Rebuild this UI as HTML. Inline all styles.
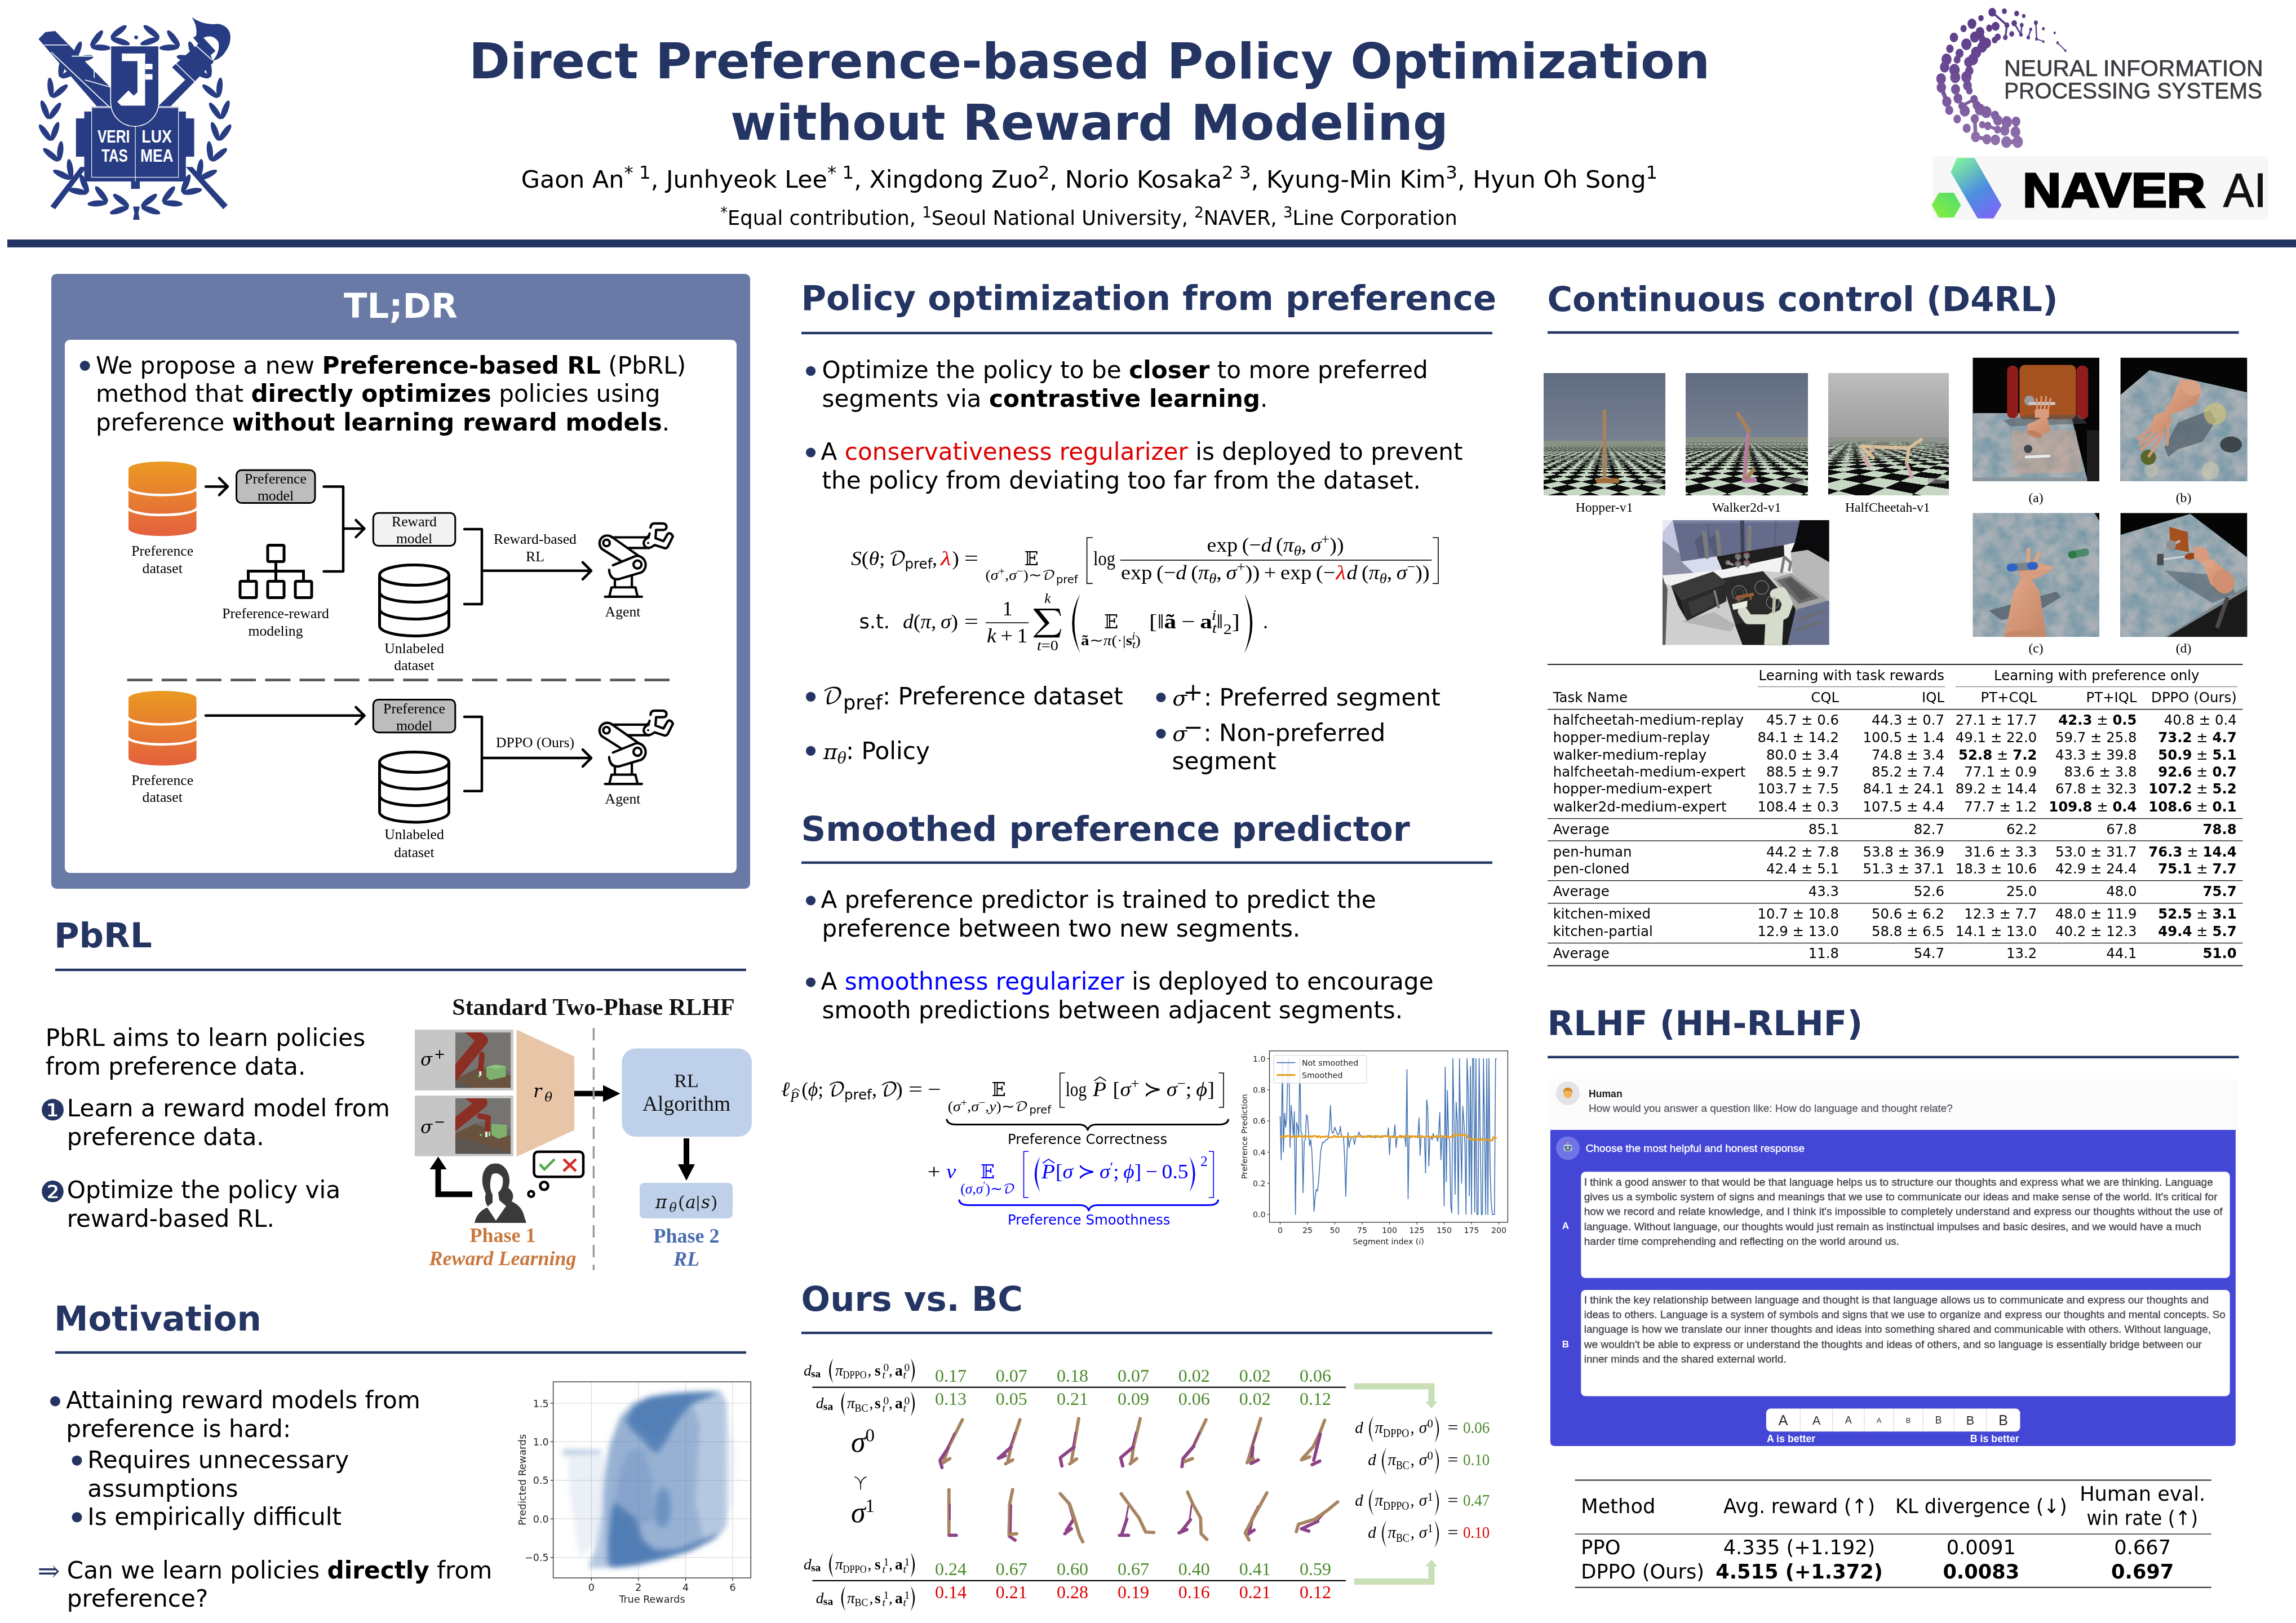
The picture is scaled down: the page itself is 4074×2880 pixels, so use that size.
<!DOCTYPE html>
<html><head><meta charset="utf-8"><title>Direct Preference-based Policy Optimization without Reward Modeling</title>
<style>
html,body{margin:0;padding:0;background:#fff;}
#poster{position:relative;width:4074px;height:2880px;overflow:hidden;background:#fff;}
#poster svg.main{position:absolute;left:0;top:0;}
.abs{position:absolute;}
</style></head><body>
<div id="poster">
<div class="abs" style="left:2739px;top:662.3px;width:216px;height:216.3px;overflow:hidden;background:linear-gradient(180deg,#5f6b80 0,#788191 119.7px);"><div class="abs" style="left:0;top:119.7px;width:216px;height:96.60000000000001px;overflow:hidden;perspective:300px;perspective-origin:50% 0;background:#8a9286;"><div class="abs" style="left:108.0px;top:0;width:0;height:0;transform-style:preserve-3d;"><div class="abs" style="left:-3000px;top:-3000px;width:6000px;height:6000px;background:conic-gradient(#0b0b0b 25%,#c6d7c3 0 50%,#0b0b0b 0 75%,#c6d7c3 0) 0 0/80px 80px;transform:translateY(100px) rotateX(90deg) rotateZ(45deg);"></div></div><div class="abs" style="left:0;top:0;width:216px;height:96.60000000000001px;background:linear-gradient(180deg,#8a9286 0,#8a9286 3px,rgba(140,150,138,0.7) 12px,rgba(140,150,138,0.25) 30px,rgba(140,150,138,0) 55px);"></div></div><svg class="abs" style="left:0;top:0" width="216" height="216.3" viewBox="0 0 216 216.3"><polyline points="108.0,68.0 108.0,186.0" fill="none" stroke="#a9825a" stroke-width="6.5" stroke-linecap="round" stroke-linejoin="round"/><polyline points="97.0,191.0 130.0,191.0" fill="none" stroke="#a06d3c" stroke-width="9" stroke-linecap="round" stroke-linejoin="round"/><rect x="180" y="187" width="30" height="10" fill="#888" fill-opacity="0.55" rx="1"/></svg></div>
<div class="abs" style="left:2991px;top:662.3px;width:216.5px;height:216.3px;overflow:hidden;background:linear-gradient(180deg,#5f6b80 0,#788191 114px);"><div class="abs" style="left:0;top:114px;width:216.5px;height:102.30000000000001px;overflow:hidden;perspective:300px;perspective-origin:50% 0;background:#8a9286;"><div class="abs" style="left:108.25px;top:0;width:0;height:0;transform-style:preserve-3d;"><div class="abs" style="left:-3000px;top:-3000px;width:6000px;height:6000px;background:conic-gradient(#0b0b0b 25%,#c6d7c3 0 50%,#0b0b0b 0 75%,#c6d7c3 0) 0 0/96px 96px;transform:translateY(100px) rotateX(90deg) rotateZ(45deg);"></div></div><div class="abs" style="left:0;top:0;width:216.5px;height:102.30000000000001px;background:linear-gradient(180deg,#8a9286 0,#8a9286 3px,rgba(140,150,138,0.7) 12px,rgba(140,150,138,0.25) 30px,rgba(140,150,138,0) 55px);"></div></div><svg class="abs" style="left:0;top:0" width="216.5" height="216.3" viewBox="0 0 216.5 216.3"><polyline points="93.0,72.0 112.0,103.0 108.0,150.0 104.0,186.0" fill="none" stroke="#a9825a" stroke-width="6.5" stroke-linecap="round" stroke-linejoin="round"/><polyline points="110.0,108.0 106.0,150.0 104.0,183.0" fill="none" stroke="#b87aa8" stroke-width="5" stroke-linecap="round" stroke-linejoin="round"/><polyline points="104.0,190.0 122.0,190.0" fill="none" stroke="#b87aa8" stroke-width="9" stroke-linecap="round" stroke-linejoin="round"/><polyline points="109.0,186.0 120.0,172.0" fill="none" stroke="#a9825a" stroke-width="7" stroke-linecap="round" stroke-linejoin="round"/><rect x="176" y="186" width="33" height="10" fill="#888" fill-opacity="0.55" rx="1"/></svg></div>
<div class="abs" style="left:3243.5px;top:662.3px;width:214.5px;height:216.3px;overflow:hidden;background:linear-gradient(180deg,#bdbdbd 0,#9d9d9d 113.5px);"><div class="abs" style="left:0;top:113.5px;width:214.5px;height:102.80000000000001px;overflow:hidden;perspective:300px;perspective-origin:50% 0;background:#8f948c;"><div class="abs" style="left:107.25px;top:0;width:0;height:0;transform-style:preserve-3d;"><div class="abs" style="left:-3000px;top:-3000px;width:6000px;height:6000px;background:conic-gradient(#0b0b0b 25%,#c6d7c3 0 50%,#0b0b0b 0 75%,#c6d7c3 0) 0 0/124px 124px;transform:translateY(100px) rotateX(90deg) rotateZ(33deg);"></div></div><div class="abs" style="left:0;top:0;width:214.5px;height:102.80000000000001px;background:linear-gradient(180deg,#8f948c 0,#8f948c 3px,rgba(140,150,138,0.7) 12px,rgba(140,150,138,0.25) 30px,rgba(140,150,138,0) 55px);"></div></div><svg class="abs" style="left:0;top:0" width="214.5" height="216.3" viewBox="0 0 214.5 216.3"><polyline points="58.0,130.0 143.0,133.0 165.0,118.0" fill="none" stroke="#d8bf99" stroke-width="6" stroke-linecap="round" stroke-linejoin="round"/><polyline points="143.0,133.0 139.0,160.0" fill="none" stroke="#d8bf99" stroke-width="6" stroke-linecap="round" stroke-linejoin="round"/><polyline points="80.0,133.0 64.0,152.0" fill="none" stroke="#cfae96" stroke-width="6" stroke-linecap="round" stroke-linejoin="round"/><polyline points="64.0,152.0 72.0,165.0" fill="none" stroke="#d0a3a8" stroke-width="6" stroke-linecap="round" stroke-linejoin="round"/><polyline points="139.0,160.0 148.0,185.0" fill="none" stroke="#d0a3a8" stroke-width="6" stroke-linecap="round" stroke-linejoin="round"/><polyline points="58.0,130.0 80.0,150.0" fill="none" stroke="#d8bf99" stroke-width="6" stroke-linecap="round" stroke-linejoin="round"/><rect x="177" y="186" width="32" height="10" fill="#999" fill-opacity="0.55" rx="1"/></svg></div>

<svg class="main" width="4074" height="2880" viewBox="0 0 4074 2880">
<rect x="13.0" y="425.0" width="4061.0" height="14.0" fill="#243564"/>
<text x="1933.0" y="139.0" font-size="88" font-family="'DejaVu Sans', sans-serif" fill="#243564" text-anchor="middle" font-weight="bold">Direct Preference-based Policy Optimization</text>
<text x="1933.0" y="247.5" font-size="88" font-family="'DejaVu Sans', sans-serif" fill="#243564" text-anchor="middle" font-weight="bold">without Reward Modeling</text>
<text x="1933.0" y="333.0" font-size="42.8" font-family="'DejaVu Sans', sans-serif" fill="#000" text-anchor="middle">Gaon An<tspan dy="-16.26" font-size="32.5">* 1</tspan><tspan dy="16.26">, Junhyeok Lee</tspan><tspan dy="-16.26" font-size="32.5">* 1</tspan><tspan dy="16.26">, Xingdong Zuo</tspan><tspan dy="-16.26" font-size="32.5">2</tspan><tspan dy="16.26">, Norio Kosaka</tspan><tspan dy="-16.26" font-size="32.5">2 3</tspan><tspan dy="16.26">, Kyung-Min Kim</tspan><tspan dy="-16.26" font-size="32.5">3</tspan><tspan dy="16.26">, Hyun Oh Song</tspan><tspan dy="-16.26" font-size="32.5">1</tspan></text>
<text x="1932.0" y="399.0" font-size="35.2" font-family="'DejaVu Sans', sans-serif" fill="#000" text-anchor="middle"><tspan dy="-13.38" font-size="26">*</tspan><tspan dy="13.38">Equal contribution, </tspan><tspan dy="-13.38" font-size="26">1</tspan><tspan dy="13.38">Seoul National University, </tspan><tspan dy="-13.38" font-size="26">2</tspan><tspan dy="13.38">NAVER, </tspan><tspan dy="-13.38" font-size="26">3</tspan><tspan dy="13.38">Line Corporation</tspan></text>
<rect x="91.0" y="486.0" width="1240.0" height="1091.0" fill="#687aa5" rx="9"/>
<rect x="115.0" y="603.0" width="1192.0" height="946.0" fill="#fff" rx="9"/>
<text x="711.0" y="563.5" font-size="60.8" font-family="'DejaVu Sans', sans-serif" fill="#fff" text-anchor="middle" font-weight="bold">TL;DR</text>
<circle cx="150.7" cy="649.0" r="9.0" fill="#243564" />
<text x="170.0" y="662.6" font-size="42.2" font-family="'DejaVu Sans', sans-serif" fill="#000">We propose a new <tspan font-weight="bold">Preference-based RL</tspan> (PbRL)</text>
<text x="170.0" y="713.2" font-size="42.2" font-family="'DejaVu Sans', sans-serif" fill="#000">method that <tspan font-weight="bold">directly optimizes</tspan> policies using</text>
<text x="170.0" y="763.8" font-size="42.2" font-family="'DejaVu Sans', sans-serif" fill="#000">preference <tspan font-weight="bold">without learning reward models</tspan>.</text>
<defs><linearGradient id="og1" x1="0" y1="0" x2="0" y2="1"><stop offset="0" stop-color="#e99a22"/><stop offset="1" stop-color="#e4603e"/></linearGradient></defs><path d="M228,832.0 A60.30000000000001,13.0 0 0 1 348.6,832.0 L348.6,938.3 A60.30000000000001,13.0 0 0 1 228,938.3 Z" fill="url(#og1)" />
<path d="M227,865.4333333333333 A61.30000000000001,13.0 0 0 0 349.6,865.4333333333333" fill="none" stroke="#fff" stroke-width="4.5" />
<path d="M227,900.8666666666667 A61.30000000000001,13.0 0 0 0 349.6,900.8666666666667" fill="none" stroke="#fff" stroke-width="4.5" />
<line x1="365.0" y1="863.4" x2="402.0" y2="863.4" stroke="#000" stroke-width="4.5" stroke-linecap="round"/>
<path d="M389,848.4 L404,863.4 L389,878.4" fill="none" stroke="#000" stroke-width="4.5" stroke-linecap="round" stroke-linejoin="round"/>
<rect x="419.5" y="834.3" width="139.5" height="58.3" fill="#bdbdbd" rx="9" stroke="#000" stroke-width="3"/>
<text x="489.0" y="858.0" font-size="25.7" font-family="'Liberation Serif', serif" fill="#000" text-anchor="middle">Preference</text>
<text x="489.0" y="888.3" font-size="25.7" font-family="'Liberation Serif', serif" fill="#000" text-anchor="middle">model</text>
<path d="M574.5,863.4 L609,863.4 L609,1014 L574.5,1014" fill="none" stroke="#000" stroke-width="4.5" stroke-linecap="round" stroke-linejoin="round"/>
<line x1="609.0" y1="938.0" x2="644.5" y2="938.0" stroke="#000" stroke-width="4.5" stroke-linecap="round"/>
<path d="M631.5,923 L646.5,938 L631.5,953" fill="none" stroke="#000" stroke-width="4.5" stroke-linecap="round" stroke-linejoin="round"/>
<rect x="662.3" y="910.2" width="145.5" height="58.3" fill="#f2f2f2" rx="9" stroke="#000" stroke-width="3"/>
<text x="735.0" y="934.0" font-size="25.7" font-family="'Liberation Serif', serif" fill="#000" text-anchor="middle">Reward</text>
<text x="735.0" y="964.0" font-size="25.7" font-family="'Liberation Serif', serif" fill="#000" text-anchor="middle">model</text>
<rect x="475.0" y="967.5" width="29.0" height="29.0" fill="#fff" rx="2" stroke="#000" stroke-width="5"/>
<line x1="489.5" y1="999.0" x2="489.5" y2="1031.0" stroke="#000" stroke-width="5" />
<path d="M440.5,1031 L440.5,1013.5 L538.5,1013.5 L538.5,1031" fill="none" stroke="#000" stroke-width="5" />
<rect x="426.0" y="1031.5" width="29.0" height="29.0" fill="#fff" rx="2" stroke="#000" stroke-width="5"/>
<rect x="475.0" y="1031.5" width="29.0" height="29.0" fill="#fff" rx="2" stroke="#000" stroke-width="5"/>
<rect x="524.0" y="1031.5" width="29.0" height="29.0" fill="#fff" rx="2" stroke="#000" stroke-width="5"/>
<text x="489.0" y="1096.5" font-size="25.7" font-family="'Liberation Serif', serif" fill="#000" text-anchor="middle">Preference-reward</text>
<text x="489.0" y="1127.8" font-size="25.7" font-family="'Liberation Serif', serif" fill="#000" text-anchor="middle">modeling</text>
<text x="288.2" y="986.0" font-size="25.7" font-family="'Liberation Serif', serif" fill="#000" text-anchor="middle">Preference</text>
<text x="288.2" y="1016.5" font-size="25.7" font-family="'Liberation Serif', serif" fill="#000" text-anchor="middle">dataset</text>
<path d="M673.5,1020.5 L673.5,1110.5 A61.5,18.0 0 0 0 796.5,1110.5 L796.5,1020.5" fill="#fff" stroke="#000" stroke-width="5" />
<ellipse cx="735.0" cy="1020.5" rx="61.5" ry="18.0" fill="#fff" stroke="#000" stroke-width="5"/><path d="M673.5,1050.5 A61.5,18.0 0 0 0 796.5,1050.5" fill="none" stroke="#000" stroke-width="5" />
<path d="M673.5,1080.5 A61.5,18.0 0 0 0 796.5,1080.5" fill="none" stroke="#000" stroke-width="5" />
<text x="735.0" y="1158.5" font-size="25.7" font-family="'Liberation Serif', serif" fill="#000" text-anchor="middle">Unlabeled</text>
<text x="735.0" y="1189.0" font-size="25.7" font-family="'Liberation Serif', serif" fill="#000" text-anchor="middle">dataset</text>
<path d="M824,939 L855,939 L855,1072 L824,1072" fill="none" stroke="#000" stroke-width="4.5" stroke-linecap="round" stroke-linejoin="round"/>
<line x1="855.0" y1="1012.8" x2="1047.0" y2="1012.8" stroke="#000" stroke-width="4.5" stroke-linecap="round"/>
<path d="M1034,997.8 L1049,1012.8 L1034,1027.8" fill="none" stroke="#000" stroke-width="4.5" stroke-linecap="round" stroke-linejoin="round"/>
<text x="949.5" y="965.3" font-size="25.7" font-family="'Liberation Serif', serif" fill="#000" text-anchor="middle">Reward-based</text>
<text x="949.5" y="996.0" font-size="25.7" font-family="'Liberation Serif', serif" fill="#000" text-anchor="middle">RL</text>
<g transform="translate(1040.0,910.0) scale(0.10478)" fill="none" stroke="#000" stroke-width="40" stroke-linecap="round" stroke-linejoin="round"><path d="M320,1420 L945,1420"/><path d="M395,1410 L430,1262 L835,1262 L870,1410"/><path d="M487,1255 L487,1150 M775,1255 L775,1075"/><path d="M455,888 L850,728 A152,152 0 0 1 935,1010 L565,1120 Q430,1150 395,1010 L390,965"/><circle cx="870" cy="875" r="68"/><path d="M600,822 L268,612 A132,132 0 0 1 425,402 L880,722"/><circle cx="345" cy="510" r="55"/><path d="M435,415 L1020,415 Q1070,400 1075,350 M695,595 L1060,595"/><path d="M1060,415 Q970,455 975,520 Q990,590 1060,595 Q1100,590 1160,545 L1330,600 Q1365,605 1385,570 L1470,400 Q1445,345 1405,345 Q1380,350 1365,385 L1310,480 L1175,430 L1185,290 L1310,290 Q1360,285 1362,235 Q1355,185 1305,180 L1145,180 Q1095,190 1090,250"/><circle cx="1050" cy="510" r="10" fill="#000" stroke-width="18"/></g><text x="1105.0" y="1093.5" font-size="25.7" font-family="'Liberation Serif', serif" fill="#000" text-anchor="middle">Agent</text>
<line x1="225.6" y1="1206.6" x2="1188.0" y2="1206.6" stroke="#595959" stroke-width="4.6" stroke-dasharray="45 16.2"/>
<defs><linearGradient id="og2" x1="0" y1="0" x2="0" y2="1"><stop offset="0" stop-color="#e99a22"/><stop offset="1" stop-color="#e4603e"/></linearGradient></defs><path d="M228,1239.0 A60.30000000000001,13.0 0 0 1 348.6,1239.0 L348.6,1345.4 A60.30000000000001,13.0 0 0 1 228,1345.4 Z" fill="url(#og2)" />
<path d="M227,1272.4666666666667 A61.30000000000001,13.0 0 0 0 349.6,1272.4666666666667" fill="none" stroke="#fff" stroke-width="4.5" />
<path d="M227,1307.9333333333334 A61.30000000000001,13.0 0 0 0 349.6,1307.9333333333334" fill="none" stroke="#fff" stroke-width="4.5" />
<line x1="365.0" y1="1269.8" x2="644.5" y2="1269.8" stroke="#000" stroke-width="4.5" stroke-linecap="round"/>
<path d="M631.5,1254.8 L646.5,1269.8 L631.5,1284.8" fill="none" stroke="#000" stroke-width="4.5" stroke-linecap="round" stroke-linejoin="round"/>
<rect x="662.3" y="1241.4" width="145.5" height="58.3" fill="#bdbdbd" rx="9" stroke="#000" stroke-width="3"/>
<text x="735.0" y="1265.5" font-size="25.7" font-family="'Liberation Serif', serif" fill="#000" text-anchor="middle">Preference</text>
<text x="735.0" y="1296.0" font-size="25.7" font-family="'Liberation Serif', serif" fill="#000" text-anchor="middle">model</text>
<text x="288.2" y="1392.5" font-size="25.7" font-family="'Liberation Serif', serif" fill="#000" text-anchor="middle">Preference</text>
<text x="288.2" y="1423.0" font-size="25.7" font-family="'Liberation Serif', serif" fill="#000" text-anchor="middle">dataset</text>
<path d="M673.5,1352.5 L673.5,1441.0 A61.5,18.0 0 0 0 796.5,1441.0 L796.5,1352.5" fill="#fff" stroke="#000" stroke-width="5" />
<ellipse cx="735.0" cy="1352.5" rx="61.5" ry="18.0" fill="#fff" stroke="#000" stroke-width="5"/><path d="M673.5,1382.0 A61.5,18.0 0 0 0 796.5,1382.0" fill="none" stroke="#000" stroke-width="5" />
<path d="M673.5,1411.5 A61.5,18.0 0 0 0 796.5,1411.5" fill="none" stroke="#000" stroke-width="5" />
<text x="735.0" y="1489.0" font-size="25.7" font-family="'Liberation Serif', serif" fill="#000" text-anchor="middle">Unlabeled</text>
<text x="735.0" y="1520.5" font-size="25.7" font-family="'Liberation Serif', serif" fill="#000" text-anchor="middle">dataset</text>
<path d="M824,1272 L855,1272 L855,1403.8 L824,1403.8" fill="none" stroke="#000" stroke-width="4.5" stroke-linecap="round" stroke-linejoin="round"/>
<line x1="855.0" y1="1345.1" x2="1047.0" y2="1345.1" stroke="#000" stroke-width="4.5" stroke-linecap="round"/>
<path d="M1034,1330.1 L1049,1345.1 L1034,1360.1" fill="none" stroke="#000" stroke-width="4.5" stroke-linecap="round" stroke-linejoin="round"/>
<text x="949.5" y="1325.5" font-size="25.7" font-family="'Liberation Serif', serif" fill="#000" text-anchor="middle">DPPO (Ours)</text>
<g transform="translate(1040.0,1242.3) scale(0.10478)" fill="none" stroke="#000" stroke-width="40" stroke-linecap="round" stroke-linejoin="round"><path d="M320,1420 L945,1420"/><path d="M395,1410 L430,1262 L835,1262 L870,1410"/><path d="M487,1255 L487,1150 M775,1255 L775,1075"/><path d="M455,888 L850,728 A152,152 0 0 1 935,1010 L565,1120 Q430,1150 395,1010 L390,965"/><circle cx="870" cy="875" r="68"/><path d="M600,822 L268,612 A132,132 0 0 1 425,402 L880,722"/><circle cx="345" cy="510" r="55"/><path d="M435,415 L1020,415 Q1070,400 1075,350 M695,595 L1060,595"/><path d="M1060,415 Q970,455 975,520 Q990,590 1060,595 Q1100,590 1160,545 L1330,600 Q1365,605 1385,570 L1470,400 Q1445,345 1405,345 Q1380,350 1365,385 L1310,480 L1175,430 L1185,290 L1310,290 Q1360,285 1362,235 Q1355,185 1305,180 L1145,180 Q1095,190 1090,250"/><circle cx="1050" cy="510" r="10" fill="#000" stroke-width="18"/></g><text x="1105.0" y="1425.8" font-size="25.7" font-family="'Liberation Serif', serif" fill="#000" text-anchor="middle">Agent</text>
<text x="96.0" y="1681.2" font-size="60.8" font-family="'DejaVu Sans', sans-serif" fill="#243564" font-weight="bold">PbRL</text>
<rect x="98.0" y="1718.8" width="1226.0" height="4.4" fill="#243564"/>
<text x="80.7" y="1856.1" font-size="42.2" font-family="'DejaVu Sans', sans-serif" fill="#000">PbRL aims to learn policies</text>
<text x="80.7" y="1906.7" font-size="42.2" font-family="'DejaVu Sans', sans-serif" fill="#000">from preference data.</text>
<circle cx="93.4" cy="1968.6" r="17.0" fill="#fff" />
<text x="70.3" y="1988.2" font-size="51.7" font-family="'DejaVu Sans', sans-serif" fill="#243564">❶</text>
<text x="118.7" y="1981.4" font-size="42.2" font-family="'DejaVu Sans', sans-serif" fill="#000">Learn a reward model from</text>
<text x="118.7" y="2032.2" font-size="42.2" font-family="'DejaVu Sans', sans-serif" fill="#000">preference data.</text>
<circle cx="93.4" cy="2113.0" r="17.0" fill="#fff" />
<text x="70.3" y="2132.6" font-size="51.7" font-family="'DejaVu Sans', sans-serif" fill="#243564">❷</text>
<text x="118.7" y="2125.6" font-size="42.2" font-family="'DejaVu Sans', sans-serif" fill="#000">Optimize the policy via</text>
<text x="118.7" y="2176.5" font-size="42.2" font-family="'DejaVu Sans', sans-serif" fill="#000">reward-based RL.</text>
<text x="1053.0" y="1801.3" font-size="42.1" font-family="'Liberation Serif', serif" fill="#111" text-anchor="middle" font-weight="bold">Standard Two-Phase RLHF</text>
<rect x="735.9" y="1827.1" width="174.8" height="107.9" fill="#c6c6c6"/>
<rect x="735.9" y="1944.2" width="174.8" height="107.5" fill="#c6c6c6"/>
<text x="745.0" y="1891.0" font-size="31" font-family="'DejaVu Math TeX Gyre', 'Liberation Serif', serif" fill="#000">𝜎<tspan dy="-13.02" font-size="24">+</tspan></text>
<text x="745.0" y="2011.0" font-size="31" font-family="'DejaVu Math TeX Gyre', 'Liberation Serif', serif" fill="#000">𝜎<tspan dy="-13.02" font-size="24">−</tspan></text>
<svg x="807.9" y="1832.1" width="98.4" height="98.4" viewBox="0 0 100 100" preserveAspectRatio="none"><rect width="100" height="100" fill="#767471"/><polygon points="0,84 41,64 100,78 100,100 0,100" fill="#69523f"/><polygon points="0,84 30,100 0,100" fill="#585858"/><polygon points="41,64 60,60 100,70 100,78" fill="#6a6a68"/><polygon points="56,62 73,58 91,61 91,80 62,86 56,80" fill="#7fb06e"/><polygon points="56,62 73,58 91,61 74,66" fill="#92c481"/><path d="M-4,78 L49,14 L26,-6" fill="none" stroke="#8b2e24" stroke-width="20" stroke-linejoin="round" stroke-linecap="round"/><path d="M48,40 L46,62" fill="none" stroke="#8b2e24" stroke-width="10" stroke-linecap="round"/><circle cx="46" cy="66" r="5.5" fill="#8b2e24"/><rect x="43" y="70" width="4" height="8" fill="#eee"/><circle cx="43" cy="79" r="2" fill="#6cd05a"/></svg><svg x="807.9" y="1949" width="98.4" height="98.4" viewBox="0 0 100 100" preserveAspectRatio="none"><rect width="100" height="100" fill="#767471"/><polygon points="0,63 35,46 100,68 100,100 20,100 0,92" fill="#69523f"/><polygon points="0,70 100,96 100,100 0,100" fill="#5a5550"/><polygon points="35,46 50,42 100,56 100,68" fill="#6a6a68"/><polygon points="65,46 93,48 93,68 78,73 65,66" fill="#7fb06e"/><path d="M-4,50 L48,8 L26,-6" fill="none" stroke="#8b2e24" stroke-width="20" stroke-linejoin="round" stroke-linecap="round"/><path d="M44,32 L59,35 L58,56" fill="none" stroke="#8b2e24" stroke-width="10" stroke-linecap="round" stroke-linejoin="round"/><rect x="54" y="60" width="4" height="10" fill="#eee"/><rect x="60" y="60" width="3" height="8" fill="#9be58a"/><circle cx="46" cy="66" r="2" fill="#6cd05a"/></svg><path d="M916.6,1827 L1019,1874.4 L1019,2005.4 L916.6,2052.6 Z" fill="#e9c5a8" />
<text x="946.0" y="1947.0" font-size="31" font-family="'DejaVu Math TeX Gyre', 'Liberation Serif', serif" fill="#000">𝑟<tspan dy="7.75" font-size="23">𝜃</tspan></text>
<rect x="1019.0" y="1935.7" width="56.0" height="9.6" fill="#000"/>
<path d="M1070,1925.5 L1100.6,1940.5 L1070,1955.5 Z" fill="#000" />
<line x1="1053.4" y1="1824.0" x2="1053.4" y2="2254.0" stroke="#9a9a9a" stroke-width="3.4" stroke-dasharray="22 13"/>
<rect x="1103.5" y="1860.6" width="230.5" height="156.4" fill="#bfd0ea" rx="24"/>
<text x="1218.0" y="1929.0" font-size="34" font-family="'Liberation Serif', serif" fill="#111" text-anchor="middle">RL</text>
<text x="1218.0" y="1971.0" font-size="37.5" font-family="'Liberation Serif', serif" fill="#111" text-anchor="middle">Algorithm</text>
<rect x="1213.0" y="2020.0" width="10.0" height="50.0" fill="#000"/>
<path d="M1203,2066 L1218,2095 L1233,2066 Z" fill="#000" />
<rect x="1135.0" y="2099.0" width="165.0" height="63.0" fill="#bfd0ea" rx="8"/>
<text x="1217.5" y="2144.0" font-size="31" font-family="'DejaVu Math TeX Gyre', 'Liberation Serif', serif" fill="#111" text-anchor="middle">𝜋<tspan dy="6.82" font-size="22">𝜃</tspan><tspan dy="-6.82">(𝑎|𝑠)</tspan></text>
<text x="1218.0" y="2205.0" font-size="36" font-family="'Liberation Serif', serif" fill="#4a6db0" text-anchor="middle" font-weight="bold">Phase 2</text>
<text x="1218.0" y="2245.7" font-size="36" font-family="'Liberation Serif', serif" fill="#4a6db0" text-anchor="middle" font-weight="bold" font-style="italic">RL</text>
<text x="892.0" y="2204.0" font-size="36" font-family="'Liberation Serif', serif" fill="#c9783f" text-anchor="middle" font-weight="bold">Phase 1</text>
<text x="892.0" y="2244.5" font-size="36" font-family="'Liberation Serif', serif" fill="#c9783f" text-anchor="middle" font-weight="bold" font-style="italic">Reward Learning</text>
<path d="M838,2119.3 L777.5,2119.3 L777.5,2072" fill="none" stroke="#000" stroke-width="10" />
<path d="M762.5,2075 L777.5,2052.6 L792.5,2075 Z" fill="#000" />
<rect x="947.5" y="2043.8" width="87.5" height="44.5" fill="#fff" rx="7" stroke="#000" stroke-width="4.5"/>
<path d="M958,2066 L966,2075 L984,2057" fill="none" stroke="#4ea84a" stroke-width="4.5" />
<path d="M1000,2057 L1022,2078 M1022,2057 L1000,2078" fill="none" stroke="#d0302a" stroke-width="4.5" />
<circle cx="965.5" cy="2104.3" r="7.0" fill="#fff" stroke="#000" stroke-width="4.6" />
<circle cx="942.5" cy="2118.7" r="5.0" fill="#fff" stroke="#000" stroke-width="4.4" />
<path d="M870,2066 Q890,2060 900,2078 Q907,2092 902,2108 Q915,2118 908,2132 Q926,2140 930,2158 L934,2170 L842,2170 Q846,2150 866,2142 Q858,2130 862,2118 Q852,2098 858,2080 Q862,2070 870,2066 Z" fill="#3a3a3a" />
<path d="M873,2084 Q884,2078 892,2090 Q894,2108 884,2116 L886,2130 L898,2140 L880,2166 L864,2142 L874,2134 L874,2120 Q866,2106 873,2084 Z" fill="#fff" />
<text x="96.0" y="2360.6" font-size="60.8" font-family="'DejaVu Sans', sans-serif" fill="#243564" font-weight="bold">Motivation</text>
<rect x="98.0" y="2397.8" width="1226.0" height="4.4" fill="#243564"/>
<circle cx="98.0" cy="2486.5" r="9.0" fill="#243564" />
<text x="117.2" y="2498.6" font-size="42.2" font-family="'DejaVu Sans', sans-serif" fill="#000">Attaining reward models from</text>
<text x="117.2" y="2549.6" font-size="42.2" font-family="'DejaVu Sans', sans-serif" fill="#000">preference is hard:</text>
<circle cx="136.5" cy="2591.7" r="9.0" fill="#243564" />
<text x="155.3" y="2605.3" font-size="42.2" font-family="'DejaVu Sans', sans-serif" fill="#000">Requires unnecessary</text>
<text x="155.3" y="2656.0" font-size="42.2" font-family="'DejaVu Sans', sans-serif" fill="#000">assumptions</text>
<circle cx="136.5" cy="2692.3" r="9.0" fill="#243564" />
<text x="155.3" y="2706.2" font-size="42.2" font-family="'DejaVu Sans', sans-serif" fill="#000">Is empirically difficult</text>
<text x="66.0" y="2800.4" font-size="42" font-family="'DejaVu Math TeX Gyre', 'Liberation Serif', serif" fill="#243564">⇒</text>
<text x="118.7" y="2800.6" font-size="42.2" font-family="'DejaVu Sans', sans-serif" fill="#000">Can we learn policies <tspan font-weight="bold">directly</tspan> from</text>
<text x="118.7" y="2851.2" font-size="42.2" font-family="'DejaVu Sans', sans-serif" fill="#000">preference?</text>
<rect x="981.6" y="2452.0" width="350.7" height="348.0" fill="#fff"/>
<line x1="1049.4" y1="2452.0" x2="1049.4" y2="2800.0" stroke="#dcdcdc" stroke-width="1.2" />
<line x1="1132.9" y1="2452.0" x2="1132.9" y2="2800.0" stroke="#dcdcdc" stroke-width="1.2" />
<line x1="1216.5" y1="2452.0" x2="1216.5" y2="2800.0" stroke="#dcdcdc" stroke-width="1.2" />
<line x1="1300.0" y1="2452.0" x2="1300.0" y2="2800.0" stroke="#dcdcdc" stroke-width="1.2" />
<line x1="981.6" y1="2763.6" x2="1332.3" y2="2763.6" stroke="#dcdcdc" stroke-width="1.2" />
<line x1="981.6" y1="2695.2" x2="1332.3" y2="2695.2" stroke="#dcdcdc" stroke-width="1.2" />
<line x1="981.6" y1="2626.8" x2="1332.3" y2="2626.8" stroke="#dcdcdc" stroke-width="1.2" />
<line x1="981.6" y1="2558.4" x2="1332.3" y2="2558.4" stroke="#dcdcdc" stroke-width="1.2" />
<line x1="981.6" y1="2490.0" x2="1332.3" y2="2490.0" stroke="#dcdcdc" stroke-width="1.2" />
<defs><clipPath id="scl"><rect x="981.6" y="2452.0" width="350.69999999999993" height="348.0"/></clipPath><filter id="sbl" x="-20%" y="-20%" width="140%" height="140%"><feGaussianBlur stdDeviation="5"/></filter></defs><g clip-path="url(#scl)"><g filter="url(#sbl)"><polygon points="1043.1,2782.8 1057.8,2743.1 1068.2,2681.5 1072.4,2613.1 1082.8,2558.4 1099.5,2514.6 1120.4,2490.0 1153.8,2476.3 1216.5,2469.5 1279.1,2468.1 1289.6,2490.0 1289.6,2708.9 1258.2,2732.1 1216.5,2752.7 1174.7,2766.3 1132.9,2777.3 1091.2,2781.4" fill="#4f7cb4" fill-opacity="0.42"/>
<polygon points="1074.5,2777.3 1072.4,2654.2 1080.7,2572.1 1103.7,2510.5 1153.8,2483.2 1224.8,2476.3 1241.5,2531.0 1233.2,2667.8 1249.9,2736.2 1174.7,2763.6 1112.1,2780.0" fill="#4f7cb4" fill-opacity="0.3"/>
<polygon points="1110.0,2520.1 1124.6,2494.1 1149.6,2480.4 1183.1,2473.6 1224.8,2470.8 1274.9,2468.8 1258.2,2479.1 1224.8,2492.7 1199.8,2524.2 1183.1,2555.7 1166.3,2578.9 1153.8,2572.1 1137.1,2551.6 1120.4,2537.9" fill="#4f7cb4" fill-opacity="0.85"/>
<polygon points="1116.2,2517.4 1141.3,2487.3 1195.6,2476.3 1237.3,2476.3 1208.1,2503.7 1183.1,2537.9 1162.2,2558.4 1132.9,2531.0" fill="#4f7cb4" fill-opacity="0.6"/>
<polygon points="1080.7,2780.0 1079.5,2736.2 1084.9,2681.5 1091.2,2665.1 1107.9,2678.8 1128.8,2695.2 1141.3,2733.5 1162.2,2749.9 1199.8,2749.9 1233.2,2737.6 1270.8,2722.6 1285.4,2713.0 1266.6,2732.1 1224.8,2752.7 1174.7,2767.7 1132.9,2777.3 1091.2,2782.1" fill="#4f7cb4" fill-opacity="0.9"/>
<polygon points="1084.9,2770.4 1084.9,2708.9 1091.2,2681.5 1116.2,2702.0 1132.9,2743.1 1166.3,2756.8 1112.1,2777.3" fill="#4f7cb4" fill-opacity="0.7"/>
<polygon points="1160.1,2688.4 1164.3,2654.2 1174.7,2637.7 1187.2,2647.3 1191.4,2681.5 1183.1,2708.9 1168.4,2708.9" fill="#4f7cb4" fill-opacity="0.55"/>
<polygon points="1091.2,2667.8 1099.5,2613.1 1116.2,2572.1 1141.3,2572.1 1158.0,2626.8 1158.0,2695.2 1132.9,2708.9" fill="#4f7cb4" fill-opacity="0.25"/>
<polygon points="998.4,2573.4 1011.8,2572.1 1066.1,2573.4 1066.1,2580.3 1011.8,2581.7 998.4,2581.7" fill="#4f7cb4" fill-opacity="0.42"/>
<polygon points="1007.6,2585.8 1070.3,2583.0 1072.4,2647.3 1057.8,2736.2 1028.5,2763.6 1011.8,2654.2" fill="#4f7cb4" fill-opacity="0.12"/>
<polygon points="1289.6,2503.7 1304.2,2572.1 1300.0,2667.8 1289.6,2695.2" fill="#4f7cb4" fill-opacity="0.1"/>
</g></g><rect x="981.6" y="2452.0" width="350.7" height="348.0" fill="none" stroke="#222" stroke-width="1.3"/>
<line x1="1049.4" y1="2800.0" x2="1049.4" y2="2805.0" stroke="#222" stroke-width="1.2" />
<text x="1049.4" y="2822.5" font-size="17.5" font-family="'DejaVu Sans', sans-serif" fill="#222" text-anchor="middle">0</text>
<line x1="1132.9" y1="2800.0" x2="1132.9" y2="2805.0" stroke="#222" stroke-width="1.2" />
<text x="1132.9" y="2822.5" font-size="17.5" font-family="'DejaVu Sans', sans-serif" fill="#222" text-anchor="middle">2</text>
<line x1="1216.5" y1="2800.0" x2="1216.5" y2="2805.0" stroke="#222" stroke-width="1.2" />
<text x="1216.5" y="2822.5" font-size="17.5" font-family="'DejaVu Sans', sans-serif" fill="#222" text-anchor="middle">4</text>
<line x1="1300.0" y1="2800.0" x2="1300.0" y2="2805.0" stroke="#222" stroke-width="1.2" />
<text x="1300.0" y="2822.5" font-size="17.5" font-family="'DejaVu Sans', sans-serif" fill="#222" text-anchor="middle">6</text>
<line x1="976.6" y1="2763.6" x2="981.6" y2="2763.6" stroke="#222" stroke-width="1.2" />
<text x="973.6" y="2770.1" font-size="17.5" font-family="'DejaVu Sans', sans-serif" fill="#222" text-anchor="end">−0.5</text>
<line x1="976.6" y1="2695.2" x2="981.6" y2="2695.2" stroke="#222" stroke-width="1.2" />
<text x="973.6" y="2701.7" font-size="17.5" font-family="'DejaVu Sans', sans-serif" fill="#222" text-anchor="end">0.0</text>
<line x1="976.6" y1="2626.8" x2="981.6" y2="2626.8" stroke="#222" stroke-width="1.2" />
<text x="973.6" y="2633.3" font-size="17.5" font-family="'DejaVu Sans', sans-serif" fill="#222" text-anchor="end">0.5</text>
<line x1="976.6" y1="2558.4" x2="981.6" y2="2558.4" stroke="#222" stroke-width="1.2" />
<text x="973.6" y="2564.9" font-size="17.5" font-family="'DejaVu Sans', sans-serif" fill="#222" text-anchor="end">1.0</text>
<line x1="976.6" y1="2490.0" x2="981.6" y2="2490.0" stroke="#222" stroke-width="1.2" />
<text x="973.6" y="2496.5" font-size="17.5" font-family="'DejaVu Sans', sans-serif" fill="#222" text-anchor="end">1.5</text>
<text x="1157.0" y="2844.0" font-size="17.5" font-family="'DejaVu Sans', sans-serif" fill="#222" text-anchor="middle">True Rewards</text>
<text x="0.0" y="0.0" font-size="17.5" font-family="'DejaVu Sans', sans-serif" fill="#222" text-anchor="middle" transform="translate(932.5,2626) rotate(-90)">Predicted Rewards</text>
<text x="1421.5" y="550.3" font-size="60.8" font-family="'DejaVu Sans', sans-serif" fill="#243564" font-weight="bold">Policy optimization from preference</text>
<rect x="1422.0" y="588.8" width="1226.0" height="4.4" fill="#243564"/>
<circle cx="1438.6" cy="658.3" r="8.6" fill="#243564" />
<text x="1458.5" y="671.0" font-size="42.2" font-family="'DejaVu Sans', sans-serif" fill="#000">Optimize the policy to be <tspan font-weight="bold">closer</tspan> to more preferred</text>
<text x="1458.5" y="721.6" font-size="42.2" font-family="'DejaVu Sans', sans-serif" fill="#000">segments via <tspan font-weight="bold">contrastive learning</tspan>.</text>
<circle cx="1438.6" cy="803.0" r="8.6" fill="#243564" />
<text x="1456.5" y="815.9" font-size="42.2" font-family="'DejaVu Sans', sans-serif" fill="#000">A <tspan fill="#dd0000">conservativeness regularizer</tspan> is deployed to prevent</text>
<text x="1458.5" y="866.5" font-size="42.2" font-family="'DejaVu Sans', sans-serif" fill="#000">the policy from deviating too far from the dataset.</text>
<circle cx="1438.6" cy="1236.3" r="8.6" fill="#243564" />
<text x="1459.0" y="1249.0" font-size="40" font-family="'DejaVu Sans', sans-serif" fill="#000"><tspan font-family="'DejaVu Math TeX Gyre', 'Liberation Serif', serif">𝒟</tspan><tspan dy="10.00" font-size="35.2">pref</tspan></text>
<text x="1566.0" y="1250.2" font-size="42.2" font-family="'DejaVu Sans', sans-serif" fill="#000">: Preference dataset</text>
<circle cx="1438.6" cy="1332.4" r="8.6" fill="#243564" />
<text x="1457.5" y="1346.8" font-size="38" font-family="'DejaVu Math TeX Gyre', 'Liberation Serif', serif" fill="#000">𝜋</text>
<text x="1484.5" y="1355.0" font-size="27" font-family="'DejaVu Math TeX Gyre', 'Liberation Serif', serif" fill="#000">𝜃</text>
<text x="1500.9" y="1346.8" font-size="42.2" font-family="'DejaVu Sans', sans-serif" fill="#000">: Policy</text>
<circle cx="2060.0" cy="1237.5" r="8.6" fill="#243564" />
<text x="2079.0" y="1251.9" font-size="38" font-family="'DejaVu Math TeX Gyre', 'Liberation Serif', serif" fill="#000">𝜎</text>
<text x="2100.5" y="1240.5" font-size="42" font-family="'DejaVu Math TeX Gyre', 'Liberation Serif', serif" fill="#000">+</text>
<text x="2136.0" y="1251.9" font-size="42.2" font-family="'DejaVu Sans', sans-serif" fill="#000">: Preferred segment</text>
<circle cx="2060.0" cy="1301.9" r="8.6" fill="#243564" />
<text x="2079.0" y="1314.6" font-size="38" font-family="'DejaVu Math TeX Gyre', 'Liberation Serif', serif" fill="#000">𝜎</text>
<text x="2100.5" y="1303.0" font-size="42" font-family="'DejaVu Math TeX Gyre', 'Liberation Serif', serif" fill="#000">−</text>
<text x="2135.5" y="1314.6" font-size="42.2" font-family="'DejaVu Sans', sans-serif" fill="#000">: Non-preferred</text>
<text x="2079.5" y="1365.2" font-size="42.2" font-family="'DejaVu Sans', sans-serif" fill="#000">segment</text>
<text x="1421.5" y="1491.6" font-size="60.8" font-family="'DejaVu Sans', sans-serif" fill="#243564" font-weight="bold">Smoothed preference predictor</text>
<rect x="1422.0" y="1528.5" width="1226.0" height="4.4" fill="#243564"/>
<circle cx="1438.6" cy="1598.0" r="8.6" fill="#243564" />
<text x="1456.5" y="1611.2" font-size="42.2" font-family="'DejaVu Sans', sans-serif" fill="#000">A preference predictor is trained to predict the</text>
<text x="1458.5" y="1662.4" font-size="42.2" font-family="'DejaVu Sans', sans-serif" fill="#000">preference between two new segments.</text>
<circle cx="1438.6" cy="1743.0" r="8.6" fill="#243564" />
<text x="1456.5" y="1756.1" font-size="42.2" font-family="'DejaVu Sans', sans-serif" fill="#000">A <tspan fill="#0000ff">smoothness regularizer</tspan> is deployed to encourage</text>
<text x="1458.5" y="1806.7" font-size="42.2" font-family="'DejaVu Sans', sans-serif" fill="#000">smooth predictions between adjacent segments.</text>
<text x="1421.5" y="2326.0" font-size="60.8" font-family="'DejaVu Sans', sans-serif" fill="#243564" font-weight="bold">Ours vs. BC</text>
<rect x="1422.0" y="2363.0" width="1226.0" height="4.4" fill="#243564"/>
<text x="1510.0" y="1003.2" font-size="36.5" font-family="'Liberation Serif', serif" fill="#000" textLength="60.5" lengthAdjust="spacingAndGlyphs"><tspan font-style="italic">S</tspan>(<tspan font-style="italic">θ</tspan>;</text>
<text x="1577.0" y="1003.2" font-size="34" font-family="'DejaVu Math TeX Gyre', 'Liberation Serif', serif" fill="#000">𝒟</text>
<text x="1605.5" y="1009.3" font-size="24.5" font-family="'DejaVu Sans', sans-serif" fill="#000">pref</text>
<text x="1654.0" y="1003.2" font-size="36.5" font-family="'Liberation Serif', serif" fill="#000">,</text>
<text x="1669.0" y="1003.2" font-size="36.5" font-family="'Liberation Serif', serif" fill="#dd0000" font-style="italic" textLength="18.5" lengthAdjust="spacingAndGlyphs">λ</text>
<text x="1689.5" y="1003.2" font-size="36.5" font-family="'Liberation Serif', serif" fill="#000">)</text>
<text x="1711.0" y="1003.2" font-size="36.5" font-family="'Liberation Serif', serif" fill="#000" textLength="25.0" lengthAdjust="spacingAndGlyphs">=</text>
<text x="1830.2" y="1003.2" font-size="33" font-family="'DejaVu Math TeX Gyre', 'Liberation Serif', serif" fill="#000" text-anchor="middle">𝔼</text>
<text x="1748.5" y="1028.8" font-size="25.5" font-family="'Liberation Serif', serif" fill="#000" textLength="124.5" lengthAdjust="spacingAndGlyphs">(<tspan font-style="italic">σ</tspan><tspan dy="-8.92" font-size="19">+</tspan><tspan dy="8.92">,</tspan><tspan font-style="italic">σ</tspan><tspan dy="-8.92" font-size="19">−</tspan><tspan dy="8.92">)∼</tspan><tspan font-size="24" font-family="'DejaVu Math TeX Gyre', 'Liberation Serif', serif">𝒟</tspan></text>
<text x="1874.0" y="1034.9" font-size="19.4" font-family="'DejaVu Sans', sans-serif" fill="#000">pref</text>
<path d="M1938.8,954 L1928.6,954 L1928.6,1035.4 L1938.8,1035.4" fill="none" stroke="#000" stroke-width="1.6" />
<text x="1940.0" y="1003.2" font-size="36.5" font-family="'Liberation Serif', serif" fill="#000" textLength="39.0" lengthAdjust="spacingAndGlyphs">log</text>
<rect x="1987.8" y="993.2" width="552.7" height="1.6" fill="#000"/>
<text x="2141.5" y="979.1" font-size="36.5" font-family="'Liberation Serif', serif" fill="#000" textLength="243.0" lengthAdjust="spacingAndGlyphs">exp (−<tspan font-style="italic">d</tspan> (<tspan font-style="italic">π</tspan><tspan dy="6.57" font-style="italic" font-size="25.5">θ</tspan><tspan dy="-6.57">, </tspan><tspan font-style="italic">σ</tspan><tspan dy="-13.87" font-size="25.5">+</tspan><tspan dy="13.87">))</tspan></text>
<text x="1989.0" y="1028.0" font-size="36.5" font-family="'Liberation Serif', serif" fill="#000" textLength="380.5" lengthAdjust="spacingAndGlyphs">exp (−<tspan font-style="italic">d</tspan> (<tspan font-style="italic">π</tspan><tspan dy="6.57" font-style="italic" font-size="25.5">θ</tspan><tspan dy="-6.57">, </tspan><tspan font-style="italic">σ</tspan><tspan dy="-13.87" font-size="25.5">+</tspan><tspan dy="13.87">)) + exp (−</tspan></text>
<text x="2370.5" y="1028.0" font-size="36.5" font-family="'Liberation Serif', serif" fill="#dd0000" font-style="italic" textLength="17.5" lengthAdjust="spacingAndGlyphs">λ</text>
<text x="2389.5" y="1028.0" font-size="36.5" font-family="'Liberation Serif', serif" fill="#000" textLength="147.1" lengthAdjust="spacingAndGlyphs"><tspan font-style="italic">d</tspan> (<tspan font-style="italic">π</tspan><tspan dy="6.57" font-style="italic" font-size="25.5">θ</tspan><tspan dy="-6.57">, </tspan><tspan font-style="italic">σ</tspan><tspan dy="-13.87" font-size="25.5">−</tspan><tspan dy="13.87">))</tspan></text>
<path d="M2542,954 L2552,954 L2552,1035.4 L2542,1035.4" fill="none" stroke="#000" stroke-width="1.6" />
<text x="1524.5" y="1115.4" font-size="35.2" font-family="'DejaVu Sans', sans-serif" fill="#000">s.t.</text>
<text x="1602.0" y="1115.4" font-size="36.5" font-family="'Liberation Serif', serif" fill="#000" textLength="98.0" lengthAdjust="spacingAndGlyphs"><tspan font-style="italic">d</tspan>(<tspan font-style="italic">π</tspan>, <tspan font-style="italic">σ</tspan>)</text>
<text x="1711.0" y="1115.4" font-size="36.5" font-family="'Liberation Serif', serif" fill="#000" textLength="25.0" lengthAdjust="spacingAndGlyphs">=</text>
<text x="1787.6" y="1091.5" font-size="36.5" font-family="'Liberation Serif', serif" fill="#000" text-anchor="middle">1</text>
<rect x="1749.0" y="1104.3" width="76.4" height="1.6" fill="#000"/>
<text x="1751.0" y="1139.8" font-size="36.5" font-family="'Liberation Serif', serif" fill="#000" textLength="72.5" lengthAdjust="spacingAndGlyphs"><tspan font-style="italic">k</tspan> + 1</text>
<path d="M1834,1080 L1879.6,1080 L1882.6,1093 L1881.0,1093 Q1878.6,1083 1869.6,1083 L1844,1083 L1862.3,1105.6 L1839,1126.7 L1869.6,1126.7 Q1879.6,1126.2 1881.6,1116.2 L1883.1999999999998,1116.2 L1879.6,1131.2 L1834,1131.2 L1834,1129.6000000000001 L1854.3,1107.1 L1834,1081.6 Z" fill="#000" />
<text x="1859.0" y="1070.2" font-size="25.5" font-family="'Liberation Serif', serif" fill="#000" text-anchor="middle" font-style="italic">k</text>
<text x="1840.0" y="1154.4" font-size="25.5" font-family="'Liberation Serif', serif" fill="#000" textLength="38.0" lengthAdjust="spacingAndGlyphs"><tspan font-style="italic">t</tspan>=0</text>
<path d="M1916.8,1053.2 Q1887.66,1106.25 1916.8,1159.3 Q1896.0600000000002,1106.25 1916.8,1053.2 Z" fill="#000" />
<text x="1971.7" y="1115.4" font-size="33" font-family="'DejaVu Math TeX Gyre', 'Liberation Serif', serif" fill="#000" text-anchor="middle">𝔼</text>
<text x="1918.0" y="1144.6" font-size="25.5" font-family="'Liberation Serif', serif" fill="#000" textLength="106.0" lengthAdjust="spacingAndGlyphs"><tspan font-weight="bold">ã</tspan>∼<tspan font-style="italic">π</tspan>(·|<tspan font-weight="bold">s</tspan><tspan dy="5.61" font-style="italic" font-size="19">t</tspan><tspan dy="-15.30" font-style="italic" font-size="19" dx="-6">i</tspan><tspan dy="9.69">)</tspan></text>
<text x="2039.0" y="1115.4" font-size="36.5" font-family="'Liberation Serif', serif" fill="#000" textLength="161.0" lengthAdjust="spacingAndGlyphs">[‖<tspan font-weight="bold">ã</tspan> − <tspan font-weight="bold">a</tspan><tspan dy="7.30" font-style="italic" font-size="25.5">t</tspan><tspan dy="-22.63" font-style="italic" font-size="25.5" dx="-8">i</tspan><tspan dy="15.33">‖</tspan><tspan dy="9.12" font-size="25.5">2</tspan><tspan dy="-9.12">]</tspan></text>
<path d="M2208,1053.2 Q2236.675,1106.25 2208,1159.3 Q2228.275,1106.25 2208,1053.2 Z" fill="#000" />
<text x="2241.0" y="1115.4" font-size="36.5" font-family="'Liberation Serif', serif" fill="#000">.</text>
<text x="1386.0" y="1945.0" font-size="36.5" font-family="'Liberation Serif', serif" fill="#000" font-style="italic">ℓ</text>
<text x="1402.0" y="1955.0" font-size="25.5" font-family="'Liberation Serif', serif" fill="#000" font-style="italic">P</text>
<path d="M1405.5,1936.2 L1412.3,1931.8 L1419.2,1936.2" fill="none" stroke="#000" stroke-width="1.3" />
<text x="1422.5" y="1945.0" font-size="36.5" font-family="'Liberation Serif', serif" fill="#000" textLength="38.5" lengthAdjust="spacingAndGlyphs">(<tspan font-style="italic">ϕ</tspan>;</text>
<text x="1469.0" y="1945.0" font-size="34" font-family="'DejaVu Math TeX Gyre', 'Liberation Serif', serif" fill="#000">𝒟</text>
<text x="1497.9" y="1951.4" font-size="24.5" font-family="'DejaVu Sans', sans-serif" fill="#000">pref</text>
<text x="1547.0" y="1945.0" font-size="36.5" font-family="'Liberation Serif', serif" fill="#000">,</text>
<text x="1562.0" y="1945.0" font-size="34" font-family="'DejaVu Math TeX Gyre', 'Liberation Serif', serif" fill="#000">𝒟</text>
<text x="1589.5" y="1945.0" font-size="36.5" font-family="'Liberation Serif', serif" fill="#000">)</text>
<text x="1612.0" y="1945.0" font-size="36.5" font-family="'Liberation Serif', serif" fill="#000" textLength="25.0" lengthAdjust="spacingAndGlyphs">=</text>
<text x="1646.0" y="1945.0" font-size="36.5" font-family="'Liberation Serif', serif" fill="#000" textLength="23.5" lengthAdjust="spacingAndGlyphs">−</text>
<text x="1772.0" y="1945.0" font-size="33" font-family="'DejaVu Math TeX Gyre', 'Liberation Serif', serif" fill="#000" text-anchor="middle">𝔼</text>
<text x="1681.8" y="1971.8" font-size="25.5" font-family="'Liberation Serif', serif" fill="#000" textLength="142.8" lengthAdjust="spacingAndGlyphs">(<tspan font-style="italic">σ</tspan><tspan dy="-8.92" font-size="19">+</tspan><tspan dy="8.92">,</tspan><tspan font-style="italic">σ</tspan><tspan dy="-8.92" font-size="19">−</tspan><tspan dy="8.92">,</tspan><tspan font-style="italic">y</tspan>)∼<tspan font-size="24" font-family="'DejaVu Math TeX Gyre', 'Liberation Serif', serif">𝒟</tspan></text>
<text x="1826.4" y="1975.7" font-size="19.4" font-family="'DejaVu Sans', sans-serif" fill="#000">pref</text>
<path d="M1889.5,1904 L1880.8,1904 L1880.8,1965 L1889.5,1965" fill="none" stroke="#000" stroke-width="1.6" />
<text x="1890.7" y="1945.0" font-size="36.5" font-family="'Liberation Serif', serif" fill="#000" textLength="37.5" lengthAdjust="spacingAndGlyphs">log</text>
<text x="1939.0" y="1945.0" font-size="36.5" font-family="'Liberation Serif', serif" fill="#000" font-style="italic" textLength="24.0" lengthAdjust="spacingAndGlyphs">P</text>
<path d="M1941.5,1918 L1952,1911 L1962.5,1918" fill="none" stroke="#000" stroke-width="1.7" />
<text x="1974.6" y="1945.0" font-size="36.5" font-family="'Liberation Serif', serif" fill="#000" textLength="180.4" lengthAdjust="spacingAndGlyphs">[<tspan font-style="italic">σ</tspan><tspan dy="-13.87" font-size="25.5">+</tspan><tspan dy="13.87"> ≻ </tspan><tspan font-style="italic">σ</tspan><tspan dy="-13.87" font-size="25.5">−</tspan><tspan dy="13.87">; </tspan><tspan font-style="italic">ϕ</tspan>]</text>
<path d="M2162.5,1904 L2171,1904 L2171,1965 L2162.5,1965" fill="none" stroke="#000" stroke-width="1.6" />
<path d="M1680,1987 Q1682,1995.5 1696,1995.5 L1916,1995.5 Q1928,1996.5 1930,2005.0 Q1932,1996.5 1944,1995.5 L2163.5,1995.5 Q2177.5,1995.5 2179.5,1987" fill="none" stroke="#000" stroke-width="3.2" stroke-linecap="round" stroke-linejoin="round"/>
<text x="1929.6" y="2030.0" font-size="24.4" font-family="'DejaVu Sans', sans-serif" fill="#000" text-anchor="middle">Preference Correctness</text>
<text x="1645.5" y="2090.7" font-size="36.5" font-family="'Liberation Serif', serif" fill="#000" textLength="23.5" lengthAdjust="spacingAndGlyphs">+</text>
<text x="1679.0" y="2090.7" font-size="36.5" font-family="'Liberation Serif', serif" fill="#0000ff" font-style="italic" textLength="17.5" lengthAdjust="spacingAndGlyphs">ν</text>
<text x="1752.3" y="2090.7" font-size="33" font-family="'DejaVu Math TeX Gyre', 'Liberation Serif', serif" fill="#0000ff" text-anchor="middle">𝔼</text>
<text x="1704.3" y="2117.5" font-size="25.5" font-family="'Liberation Serif', serif" fill="#0000ff" textLength="97.1" lengthAdjust="spacingAndGlyphs">(<tspan font-style="italic">σ</tspan>,<tspan font-style="italic">σ</tspan><tspan dy="-7.65" font-size="19">′</tspan><tspan dy="7.65">)∼</tspan><tspan font-size="24" font-family="'DejaVu Math TeX Gyre', 'Liberation Serif', serif">𝒟</tspan></text>
<path d="M1825,2043.3 L1816.5,2043.3 L1816.5,2125 L1825,2125" fill="none" stroke="#0000ff" stroke-width="1.6" />
<path d="M1846,2051.4 Q1825.85,2083.55 1846,2115.7 Q1833.05,2083.55 1846,2051.4 Z" fill="#0000ff" />
<text x="1848.0" y="2090.7" font-size="36.5" font-family="'Liberation Serif', serif" fill="#0000ff" font-style="italic" textLength="24.0" lengthAdjust="spacingAndGlyphs">P</text>
<path d="M1850,2064 L1860.5,2057 L1871,2064" fill="none" stroke="#0000ff" stroke-width="1.7" />
<text x="1873.0" y="2090.7" font-size="36.5" font-family="'Liberation Serif', serif" fill="#0000ff" textLength="235.6" lengthAdjust="spacingAndGlyphs">[<tspan font-style="italic">σ</tspan> ≻ <tspan font-style="italic">σ</tspan><tspan dy="-10.95" font-size="25.5">′</tspan><tspan dy="10.95">; </tspan><tspan font-style="italic">ϕ</tspan>] − 0.5</text>
<path d="M2110.4,2051.4 Q2130.705,2083.55 2110.4,2115.7 Q2123.505,2083.55 2110.4,2051.4 Z" fill="#0000ff" />
<text x="2130.0" y="2069.3" font-size="25.5" font-family="'Liberation Serif', serif" fill="#0000ff">2</text>
<path d="M2144.8,2043.3 L2153.2,2043.3 L2153.2,2125 L2144.8,2125" fill="none" stroke="#0000ff" stroke-width="1.6" />
<path d="M1702,2130 Q1704,2138.5 1718,2138.5 L1917.8,2138.5 Q1929.8,2139.5 1931.8,2148.0 Q1933.8,2139.5 1945.8,2138.5 L2145.5,2138.5 Q2159.5,2138.5 2161.5,2130" fill="none" stroke="#0000ff" stroke-width="3.2" stroke-linecap="round" stroke-linejoin="round"/>
<text x="1932.3" y="2172.9" font-size="24.4" font-family="'DejaVu Sans', sans-serif" fill="#0000ff" text-anchor="middle">Preference Smoothness</text>
<rect x="2252.5" y="1864.8" width="422.9" height="304.1" fill="#fff"/>
<polyline points="2271.5,1980.9 2273.4,2058.3 2275.4,1878.6 2277.3,2044.5 2279.3,1975.4 2281.2,2000.3 2283.1,1983.7 2285.1,1892.4 2287.0,1878.6 2289.0,2036.2 2290.9,1961.5 2292.8,1983.7 2294.8,2016.8 2296.7,1972.6 2298.7,2155.1 2300.6,1992.0 2302.5,1997.5 2304.5,2016.8 2306.4,1878.6 2308.4,2008.6 2310.3,2011.3 2312.2,2116.4 2314.2,2025.1 2316.1,2022.4 2318.1,1978.1 2320.0,1980.9 2321.9,2011.3 2323.9,2033.4 2325.8,2022.4 2327.8,2044.5 2329.7,2086.0 2331.6,2149.6 2333.6,2124.7 2335.5,2110.9 2337.5,2113.6 2339.4,2099.8 2341.3,2074.9 2343.3,2044.5 2345.2,2033.4 2347.2,2026.5 2349.1,2027.9 2351.0,2025.1 2353.0,2022.4 2354.9,2022.4 2356.9,2019.6 2358.8,2003.0 2360.7,1961.5 2362.7,2005.8 2364.6,2011.3 2366.6,2008.6 2368.5,2000.3 2370.4,2005.8 2372.4,2011.3 2374.3,2014.1 2376.3,2011.3 2378.2,1998.9 2380.1,2014.1 2382.1,2016.8 2384.0,2019.6 2386.0,2055.6 2387.9,2123.3 2389.8,2058.3 2391.8,2009.9 2393.7,2036.2 2395.7,2025.1 2397.6,2019.6 2399.5,2016.8 2401.5,2019.6 2403.4,2030.7 2405.4,2019.6 2407.3,2016.8 2409.2,2015.5 2411.2,2008.6 2413.1,2014.1 2415.1,2015.2 2417.0,2018.9 2418.9,2016.3 2420.9,2018.9 2422.8,2015.9 2424.8,2017.6 2426.7,2015.2 2428.6,2014.7 2430.6,2016.8 2432.5,2014.6 2434.5,2017.7 2436.4,2018.7 2438.3,2016.4 2440.3,2018.9 2442.2,2018.2 2444.2,2017.3 2446.1,2016.4 2448.0,2018.4 2450.0,2018.9 2451.9,2015.2 2453.9,2017.7 2455.8,2014.8 2457.7,2015.1 2459.7,2017.4 2461.6,2017.0 2463.6,2001.6 2465.5,2048.6 2467.4,2016.4 2469.4,2016.6 2471.3,2016.3 2473.3,2014.9 2475.2,1996.1 2477.1,2036.2 2479.1,2019.6 2481.0,2018.0 2483.0,2017.7 2484.9,2014.7 2486.8,2016.8 2488.8,2016.6 2490.7,2019.0 2492.7,2017.2 2494.6,2034.8 2496.5,1898.0 2498.5,2127.4 2500.4,2016.3 2502.4,2018.8 2504.3,2016.3 2506.2,2017.0 2508.2,2016.1 2510.1,2017.5 2512.1,2015.9 2514.0,2015.8 2515.9,2019.0 2517.9,1983.7 2519.8,2050.0 2521.8,2014.8 2523.7,2018.0 2525.6,2017.0 2527.6,2016.4 2529.5,2081.8 2531.5,1951.9 2533.4,1967.1 2535.3,2069.4 2537.3,2016.4 2539.2,2017.7 2541.2,2022.4 2543.1,2011.3 2545.0,2018.9 2547.0,2016.5 2548.9,2015.8 2550.9,2025.1 2552.8,2011.3 2554.7,1974.0 2556.7,2058.3 2558.6,2018.2 2560.6,2017.1 2562.5,2139.9 2564.4,1893.8 2566.4,2097.0 2568.3,1935.3 2570.3,2016.8 2572.2,2025.1 2574.1,2138.5 2576.1,2152.3 2578.0,1878.6 2580.0,1989.2 2581.9,2119.2 2583.8,1956.0 2585.8,1989.2 2587.7,2155.1 2589.7,1878.6 2591.6,2003.0 2593.5,2099.8 2595.5,1962.9 2597.4,1989.2 2599.4,2030.7 2601.3,2155.1 2603.2,1878.6 2605.2,1933.9 2607.1,2121.9 2609.1,1892.4 2611.0,2155.1 2612.9,1878.6 2614.9,1878.6 2616.8,2151.0 2618.8,1878.6 2620.7,2155.1 2622.6,2155.1 2624.6,1878.6 2626.5,2016.8 2628.5,2155.1 2630.4,2155.1 2632.3,1878.6 2634.3,2016.8 2636.2,2155.1 2638.2,1878.6 2640.1,2155.1 2642.0,1878.6 2644.0,2072.2 2645.9,2133.0 2647.9,2155.1 2649.8,2155.1 2651.7,2155.1 2653.7,1878.6 2655.6,1878.6" fill="none" stroke="#4575b4" stroke-width="1.6" stroke-linejoin="round"/>
<polyline points="2271.5,2018.0 2273.4,2016.6 2275.4,2017.4 2277.3,2016.0 2279.3,2018.1 2281.2,2015.7 2283.1,2016.3 2285.1,2015.7 2287.0,2015.8 2289.0,2015.7 2290.9,2016.6 2292.8,2018.2 2294.8,2016.2 2296.7,2017.8 2298.7,2017.4 2300.6,2016.4 2302.5,2016.8 2304.5,2017.1 2306.4,2015.6 2308.4,2016.5 2310.3,2017.3 2312.2,2017.5 2314.2,2015.8 2316.1,2016.9 2318.1,2016.1 2320.0,2017.3 2321.9,2017.7 2323.9,2016.8 2325.8,2016.0 2327.8,2017.8 2329.7,2016.0 2331.6,2015.7 2333.6,2016.0 2335.5,2016.0 2337.5,2018.2 2339.4,2016.5 2341.3,2015.8 2343.3,2018.1 2345.2,2017.5 2347.2,2017.5 2349.1,2016.8 2351.0,2017.1 2353.0,2016.9 2354.9,2016.1 2356.9,2018.2 2358.8,2018.1 2360.7,2017.9 2362.7,2017.9 2364.6,2018.0 2366.6,2015.5 2368.5,2015.9 2370.4,2018.0 2372.4,2016.8 2374.3,2017.4 2376.3,2017.4 2378.2,2017.3 2380.1,2016.4 2382.1,2016.6 2384.0,2017.2 2386.0,2017.7 2387.9,2017.3 2389.8,2017.9 2391.8,2016.7 2393.7,2016.3 2395.7,2017.2 2397.6,2018.0 2399.5,2017.7 2401.5,2017.2 2403.4,2016.6 2405.4,2016.1 2407.3,2017.2 2409.2,2016.0 2411.2,2016.5 2413.1,2017.0 2415.1,2017.2 2417.0,2016.9 2418.9,2016.3 2420.9,2017.1 2422.8,2016.3 2424.8,2017.0 2426.7,2017.6 2428.6,2016.8 2430.6,2016.3 2432.5,2018.0 2434.5,2017.1 2436.4,2017.1 2438.3,2015.8 2440.3,2015.6 2442.2,2017.2 2444.2,2015.7 2446.1,2016.0 2448.0,2017.5 2450.0,2016.9 2451.9,2017.9 2453.9,2016.0 2455.8,2016.4 2457.7,2015.8 2459.7,2016.0 2461.6,2016.4 2463.6,2016.2 2465.5,2016.7 2467.4,2017.9 2469.4,2016.6 2471.3,2018.2 2473.3,2017.8 2475.2,2016.1 2477.1,2018.1 2479.1,2018.0 2481.0,2018.0 2483.0,2015.8 2484.9,2017.7 2486.8,2018.2 2488.8,2015.9 2490.7,2017.9 2492.7,2015.9 2494.6,2016.4 2496.5,2015.9 2498.5,2015.6 2500.4,2016.6 2502.4,2016.0 2504.3,2018.1 2506.2,2016.1 2508.2,2016.8 2510.1,2016.3 2512.1,2017.9 2514.0,2016.2 2515.9,2015.6 2517.9,2018.1 2519.8,2017.3 2521.8,2016.7 2523.7,2015.9 2525.6,2017.6 2527.6,2017.7 2529.5,2017.5 2531.5,2016.5 2533.4,2016.1 2535.3,2017.1 2537.3,2017.2 2539.2,2017.1 2541.2,2017.3 2543.1,2017.1 2545.0,2018.0 2547.0,2016.8 2548.9,2015.5 2550.9,2017.1 2552.8,2016.2 2554.7,2017.8 2556.7,2016.3 2558.6,2016.1 2560.6,2016.4 2562.5,2016.8 2564.4,2017.1 2566.4,2016.8 2568.3,2016.2 2570.3,2018.5 2572.2,2018.8 2574.1,2017.2 2576.1,2016.9 2578.0,2018.1 2580.0,2013.0 2581.9,2012.4 2583.8,2014.0 2585.8,2014.0 2587.7,2014.3 2589.7,2013.4 2591.6,2014.3 2593.5,2014.7 2595.5,2013.6 2597.4,2013.1 2599.4,2015.0 2601.3,2014.1 2603.2,2015.0 2605.2,2019.5 2607.1,2020.4 2609.1,2021.5 2611.0,2021.8 2612.9,2022.5 2614.9,2021.4 2616.8,2021.8 2618.8,2022.6 2620.7,2022.2 2622.6,2022.5 2624.6,2021.4 2626.5,2023.3 2628.5,2021.1 2630.4,2022.7 2632.3,2022.5 2634.3,2023.1 2636.2,2022.2 2638.2,2022.4 2640.1,2023.3 2642.0,2023.7 2644.0,2023.2 2645.9,2023.0 2647.9,2024.4 2649.8,2018.1 2651.7,2017.7 2653.7,2019.2 2655.6,2020.0" fill="none" stroke="#e8a120" stroke-width="3.2" stroke-linejoin="round"/>
<rect x="2252.5" y="1864.8" width="422.9" height="304.1" fill="none" stroke="#222" stroke-width="1.2"/>
<line x1="2271.5" y1="2168.9" x2="2271.5" y2="2172.9" stroke="#222" stroke-width="1" />
<text x="2271.5" y="2188.4" font-size="14.2" font-family="'DejaVu Sans', sans-serif" fill="#222" text-anchor="middle">0</text>
<line x1="2320.0" y1="2168.9" x2="2320.0" y2="2172.9" stroke="#222" stroke-width="1" />
<text x="2320.0" y="2188.4" font-size="14.2" font-family="'DejaVu Sans', sans-serif" fill="#222" text-anchor="middle">25</text>
<line x1="2368.5" y1="2168.9" x2="2368.5" y2="2172.9" stroke="#222" stroke-width="1" />
<text x="2368.5" y="2188.4" font-size="14.2" font-family="'DejaVu Sans', sans-serif" fill="#222" text-anchor="middle">50</text>
<line x1="2417.0" y1="2168.9" x2="2417.0" y2="2172.9" stroke="#222" stroke-width="1" />
<text x="2417.0" y="2188.4" font-size="14.2" font-family="'DejaVu Sans', sans-serif" fill="#222" text-anchor="middle">75</text>
<line x1="2465.5" y1="2168.9" x2="2465.5" y2="2172.9" stroke="#222" stroke-width="1" />
<text x="2465.5" y="2188.4" font-size="14.2" font-family="'DejaVu Sans', sans-serif" fill="#222" text-anchor="middle">100</text>
<line x1="2514.0" y1="2168.9" x2="2514.0" y2="2172.9" stroke="#222" stroke-width="1" />
<text x="2514.0" y="2188.4" font-size="14.2" font-family="'DejaVu Sans', sans-serif" fill="#222" text-anchor="middle">125</text>
<line x1="2562.5" y1="2168.9" x2="2562.5" y2="2172.9" stroke="#222" stroke-width="1" />
<text x="2562.5" y="2188.4" font-size="14.2" font-family="'DejaVu Sans', sans-serif" fill="#222" text-anchor="middle">150</text>
<line x1="2611.0" y1="2168.9" x2="2611.0" y2="2172.9" stroke="#222" stroke-width="1" />
<text x="2611.0" y="2188.4" font-size="14.2" font-family="'DejaVu Sans', sans-serif" fill="#222" text-anchor="middle">175</text>
<line x1="2659.5" y1="2168.9" x2="2659.5" y2="2172.9" stroke="#222" stroke-width="1" />
<text x="2659.5" y="2188.4" font-size="14.2" font-family="'DejaVu Sans', sans-serif" fill="#222" text-anchor="middle">200</text>
<line x1="2248.5" y1="2155.1" x2="2252.5" y2="2155.1" stroke="#222" stroke-width="1" />
<text x="2245.5" y="2160.3" font-size="14.2" font-family="'DejaVu Sans', sans-serif" fill="#222" text-anchor="end">0.0</text>
<line x1="2248.5" y1="2099.8" x2="2252.5" y2="2099.8" stroke="#222" stroke-width="1" />
<text x="2245.5" y="2105.0" font-size="14.2" font-family="'DejaVu Sans', sans-serif" fill="#222" text-anchor="end">0.2</text>
<line x1="2248.5" y1="2044.5" x2="2252.5" y2="2044.5" stroke="#222" stroke-width="1" />
<text x="2245.5" y="2049.7" font-size="14.2" font-family="'DejaVu Sans', sans-serif" fill="#222" text-anchor="end">0.4</text>
<line x1="2248.5" y1="1989.2" x2="2252.5" y2="1989.2" stroke="#222" stroke-width="1" />
<text x="2245.5" y="1994.4" font-size="14.2" font-family="'DejaVu Sans', sans-serif" fill="#222" text-anchor="end">0.6</text>
<line x1="2248.5" y1="1933.9" x2="2252.5" y2="1933.9" stroke="#222" stroke-width="1" />
<text x="2245.5" y="1939.1" font-size="14.2" font-family="'DejaVu Sans', sans-serif" fill="#222" text-anchor="end">0.8</text>
<line x1="2248.5" y1="1878.6" x2="2252.5" y2="1878.6" stroke="#222" stroke-width="1" />
<text x="2245.5" y="1883.8" font-size="14.2" font-family="'DejaVu Sans', sans-serif" fill="#222" text-anchor="end">1.0</text>
<text x="2463.5" y="2207.6" font-size="14.2" font-family="'DejaVu Sans', sans-serif" fill="#222" text-anchor="middle">Segment index (<tspan font-style="italic" font-family="'Liberation Serif', serif">i</tspan>)</text>
<text x="0.0" y="0.0" font-size="14.2" font-family="'DejaVu Sans', sans-serif" fill="#222" text-anchor="middle" transform="translate(2212.7,2016.7) rotate(-90)">Preference Prediction</text>
<rect x="2260.2" y="1872.7" width="164.7" height="49.4" fill="#fff" rx="3" stroke="#d0d0d0" stroke-width="1" fill-opacity="0.85"/>
<line x1="2265.4" y1="1885.6" x2="2298.4" y2="1885.6" stroke="#4575b4" stroke-width="1.6" />
<line x1="2265.4" y1="1907.6" x2="2298.4" y2="1907.6" stroke="#e8a120" stroke-width="3.2" />
<text x="2310.0" y="1890.5" font-size="14.2" font-family="'DejaVu Sans', sans-serif" fill="#222">Not smoothed</text>
<text x="2310.0" y="1912.7" font-size="14.2" font-family="'DejaVu Sans', sans-serif" fill="#222">Smoothed</text>
<text x="1687.0" y="2452.1" font-size="32.5" font-family="'Liberation Serif', serif" fill="#4a8a2a" text-anchor="middle" textLength="56.0" lengthAdjust="spacingAndGlyphs">0.17</text>
<text x="1794.7" y="2452.1" font-size="32.5" font-family="'Liberation Serif', serif" fill="#4a8a2a" text-anchor="middle" textLength="56.0" lengthAdjust="spacingAndGlyphs">0.07</text>
<text x="1903.0" y="2452.1" font-size="32.5" font-family="'Liberation Serif', serif" fill="#4a8a2a" text-anchor="middle" textLength="56.0" lengthAdjust="spacingAndGlyphs">0.18</text>
<text x="2011.0" y="2452.1" font-size="32.5" font-family="'Liberation Serif', serif" fill="#4a8a2a" text-anchor="middle" textLength="56.0" lengthAdjust="spacingAndGlyphs">0.07</text>
<text x="2118.8" y="2452.1" font-size="32.5" font-family="'Liberation Serif', serif" fill="#4a8a2a" text-anchor="middle" textLength="56.0" lengthAdjust="spacingAndGlyphs">0.02</text>
<text x="2226.8" y="2452.1" font-size="32.5" font-family="'Liberation Serif', serif" fill="#4a8a2a" text-anchor="middle" textLength="56.0" lengthAdjust="spacingAndGlyphs">0.02</text>
<text x="2334.0" y="2452.1" font-size="32.5" font-family="'Liberation Serif', serif" fill="#4a8a2a" text-anchor="middle" textLength="56.0" lengthAdjust="spacingAndGlyphs">0.06</text>
<text x="1687.0" y="2493.3" font-size="32.5" font-family="'Liberation Serif', serif" fill="#4a8a2a" text-anchor="middle" textLength="56.0" lengthAdjust="spacingAndGlyphs">0.13</text>
<text x="1794.7" y="2493.3" font-size="32.5" font-family="'Liberation Serif', serif" fill="#4a8a2a" text-anchor="middle" textLength="56.0" lengthAdjust="spacingAndGlyphs">0.05</text>
<text x="1903.0" y="2493.3" font-size="32.5" font-family="'Liberation Serif', serif" fill="#4a8a2a" text-anchor="middle" textLength="56.0" lengthAdjust="spacingAndGlyphs">0.21</text>
<text x="2011.0" y="2493.3" font-size="32.5" font-family="'Liberation Serif', serif" fill="#4a8a2a" text-anchor="middle" textLength="56.0" lengthAdjust="spacingAndGlyphs">0.09</text>
<text x="2118.8" y="2493.3" font-size="32.5" font-family="'Liberation Serif', serif" fill="#4a8a2a" text-anchor="middle" textLength="56.0" lengthAdjust="spacingAndGlyphs">0.06</text>
<text x="2226.8" y="2493.3" font-size="32.5" font-family="'Liberation Serif', serif" fill="#4a8a2a" text-anchor="middle" textLength="56.0" lengthAdjust="spacingAndGlyphs">0.02</text>
<text x="2334.0" y="2493.3" font-size="32.5" font-family="'Liberation Serif', serif" fill="#4a8a2a" text-anchor="middle" textLength="56.0" lengthAdjust="spacingAndGlyphs">0.12</text>
<text x="1687.0" y="2794.7" font-size="32.5" font-family="'Liberation Serif', serif" fill="#4a8a2a" text-anchor="middle" textLength="56.0" lengthAdjust="spacingAndGlyphs">0.24</text>
<text x="1794.7" y="2794.7" font-size="32.5" font-family="'Liberation Serif', serif" fill="#4a8a2a" text-anchor="middle" textLength="56.0" lengthAdjust="spacingAndGlyphs">0.67</text>
<text x="1903.0" y="2794.7" font-size="32.5" font-family="'Liberation Serif', serif" fill="#4a8a2a" text-anchor="middle" textLength="56.0" lengthAdjust="spacingAndGlyphs">0.60</text>
<text x="2011.0" y="2794.7" font-size="32.5" font-family="'Liberation Serif', serif" fill="#4a8a2a" text-anchor="middle" textLength="56.0" lengthAdjust="spacingAndGlyphs">0.67</text>
<text x="2118.8" y="2794.7" font-size="32.5" font-family="'Liberation Serif', serif" fill="#4a8a2a" text-anchor="middle" textLength="56.0" lengthAdjust="spacingAndGlyphs">0.40</text>
<text x="2226.8" y="2794.7" font-size="32.5" font-family="'Liberation Serif', serif" fill="#4a8a2a" text-anchor="middle" textLength="56.0" lengthAdjust="spacingAndGlyphs">0.41</text>
<text x="2334.0" y="2794.7" font-size="32.5" font-family="'Liberation Serif', serif" fill="#4a8a2a" text-anchor="middle" textLength="56.0" lengthAdjust="spacingAndGlyphs">0.59</text>
<text x="1687.0" y="2835.9" font-size="32.5" font-family="'Liberation Serif', serif" fill="#dd0000" text-anchor="middle" textLength="56.0" lengthAdjust="spacingAndGlyphs">0.14</text>
<text x="1794.7" y="2835.9" font-size="32.5" font-family="'Liberation Serif', serif" fill="#dd0000" text-anchor="middle" textLength="56.0" lengthAdjust="spacingAndGlyphs">0.21</text>
<text x="1903.0" y="2835.9" font-size="32.5" font-family="'Liberation Serif', serif" fill="#dd0000" text-anchor="middle" textLength="56.0" lengthAdjust="spacingAndGlyphs">0.28</text>
<text x="2011.0" y="2835.9" font-size="32.5" font-family="'Liberation Serif', serif" fill="#dd0000" text-anchor="middle" textLength="56.0" lengthAdjust="spacingAndGlyphs">0.19</text>
<text x="2118.8" y="2835.9" font-size="32.5" font-family="'Liberation Serif', serif" fill="#dd0000" text-anchor="middle" textLength="56.0" lengthAdjust="spacingAndGlyphs">0.16</text>
<text x="2226.8" y="2835.9" font-size="32.5" font-family="'Liberation Serif', serif" fill="#dd0000" text-anchor="middle" textLength="56.0" lengthAdjust="spacingAndGlyphs">0.21</text>
<text x="2334.0" y="2835.9" font-size="32.5" font-family="'Liberation Serif', serif" fill="#dd0000" text-anchor="middle" textLength="56.0" lengthAdjust="spacingAndGlyphs">0.12</text>
<rect x="1441.4" y="2460.6" width="946.7" height="2.2" fill="#000"/>
<rect x="1441.4" y="2803.8" width="946.7" height="2.2" fill="#000"/>
<text x="1426.0" y="2440.5" font-size="27.5" font-family="'Liberation Serif', serif" fill="#000" font-style="italic">d</text>
<text x="1439.0" y="2443.5" font-size="19.5" font-family="'Liberation Serif', serif" fill="#000" font-weight="bold">sa</text>
<path d="M1478.5,2410.0 Q1463.775,2432.5 1478.5,2455.0 Q1469.375,2432.5 1478.5,2410.0 Z" fill="#000" />
<text x="1482.0" y="2440.5" font-size="27.5" font-family="'Liberation Serif', serif" fill="#000" font-style="italic">π</text>
<text x="1495.6" y="2446.3" font-size="19.5" font-family="'Liberation Serif', serif" fill="#000" textLength="42.0" lengthAdjust="spacingAndGlyphs">DPPO</text>
<text x="1539.6" y="2440.5" font-size="27.5" font-family="'Liberation Serif', serif" fill="#000">,</text>
<text x="1552.0" y="2440.5" font-size="27.5" font-family="'Liberation Serif', serif" fill="#000" font-weight="bold">s</text>
<text x="1565.5" y="2446.3" font-size="19.5" font-family="'Liberation Serif', serif" fill="#000" font-style="italic">t</text>
<text x="1567.5" y="2433.3" font-size="19.5" font-family="'Liberation Serif', serif" fill="#000">0</text>
<text x="1577.0" y="2440.5" font-size="27.5" font-family="'Liberation Serif', serif" fill="#000">,</text>
<text x="1588.0" y="2440.5" font-size="27.5" font-family="'Liberation Serif', serif" fill="#000" font-weight="bold">a</text>
<text x="1602.5" y="2446.3" font-size="19.5" font-family="'Liberation Serif', serif" fill="#000" font-style="italic">t</text>
<text x="1604.5" y="2433.3" font-size="19.5" font-family="'Liberation Serif', serif" fill="#000">0</text>
<path d="M1615.8,2410.0 Q1630.5249999999999,2432.5 1615.8,2455.0 Q1624.925,2432.5 1615.8,2410.0 Z" fill="#000" />
<text x="1447.8" y="2499.0" font-size="27.5" font-family="'Liberation Serif', serif" fill="#000" font-style="italic">d</text>
<text x="1460.8" y="2502.0" font-size="19.5" font-family="'Liberation Serif', serif" fill="#000" font-weight="bold">sa</text>
<path d="M1500.0,2468.5 Q1485.275,2491.0 1500.0,2513.5 Q1490.875,2491.0 1500.0,2468.5 Z" fill="#000" />
<text x="1503.0" y="2499.0" font-size="27.5" font-family="'Liberation Serif', serif" fill="#000" font-style="italic">π</text>
<text x="1516.6" y="2504.8" font-size="19.5" font-family="'Liberation Serif', serif" fill="#000" textLength="24.0" lengthAdjust="spacingAndGlyphs">BC</text>
<text x="1542.6" y="2499.0" font-size="27.5" font-family="'Liberation Serif', serif" fill="#000">,</text>
<text x="1552.0" y="2499.0" font-size="27.5" font-family="'Liberation Serif', serif" fill="#000" font-weight="bold">s</text>
<text x="1565.5" y="2504.8" font-size="19.5" font-family="'Liberation Serif', serif" fill="#000" font-style="italic">t</text>
<text x="1567.5" y="2491.8" font-size="19.5" font-family="'Liberation Serif', serif" fill="#000">0</text>
<text x="1577.0" y="2499.0" font-size="27.5" font-family="'Liberation Serif', serif" fill="#000">,</text>
<text x="1588.0" y="2499.0" font-size="27.5" font-family="'Liberation Serif', serif" fill="#000" font-weight="bold">a</text>
<text x="1602.5" y="2504.8" font-size="19.5" font-family="'Liberation Serif', serif" fill="#000" font-style="italic">t</text>
<text x="1604.5" y="2491.8" font-size="19.5" font-family="'Liberation Serif', serif" fill="#000">0</text>
<path d="M1615.8,2468.5 Q1630.5249999999999,2491.0 1615.8,2513.5 Q1624.925,2491.0 1615.8,2468.5 Z" fill="#000" />
<text x="1426.0" y="2785.2" font-size="27.5" font-family="'Liberation Serif', serif" fill="#000" font-style="italic">d</text>
<text x="1439.0" y="2788.2" font-size="19.5" font-family="'Liberation Serif', serif" fill="#000" font-weight="bold">sa</text>
<path d="M1478.5,2754.7 Q1463.775,2777.2 1478.5,2799.7 Q1469.375,2777.2 1478.5,2754.7 Z" fill="#000" />
<text x="1482.0" y="2785.2" font-size="27.5" font-family="'Liberation Serif', serif" fill="#000" font-style="italic">π</text>
<text x="1495.6" y="2791.0" font-size="19.5" font-family="'Liberation Serif', serif" fill="#000" textLength="42.0" lengthAdjust="spacingAndGlyphs">DPPO</text>
<text x="1539.6" y="2785.2" font-size="27.5" font-family="'Liberation Serif', serif" fill="#000">,</text>
<text x="1552.0" y="2785.2" font-size="27.5" font-family="'Liberation Serif', serif" fill="#000" font-weight="bold">s</text>
<text x="1565.5" y="2791.0" font-size="19.5" font-family="'Liberation Serif', serif" fill="#000" font-style="italic">t</text>
<text x="1567.5" y="2778.0" font-size="19.5" font-family="'Liberation Serif', serif" fill="#000">1</text>
<text x="1577.0" y="2785.2" font-size="27.5" font-family="'Liberation Serif', serif" fill="#000">,</text>
<text x="1588.0" y="2785.2" font-size="27.5" font-family="'Liberation Serif', serif" fill="#000" font-weight="bold">a</text>
<text x="1602.5" y="2791.0" font-size="19.5" font-family="'Liberation Serif', serif" fill="#000" font-style="italic">t</text>
<text x="1604.5" y="2778.0" font-size="19.5" font-family="'Liberation Serif', serif" fill="#000">1</text>
<path d="M1615.8,2754.7 Q1630.5249999999999,2777.2 1615.8,2799.7 Q1624.925,2777.2 1615.8,2754.7 Z" fill="#000" />
<text x="1447.8" y="2844.5" font-size="27.5" font-family="'Liberation Serif', serif" fill="#000" font-style="italic">d</text>
<text x="1460.8" y="2847.5" font-size="19.5" font-family="'Liberation Serif', serif" fill="#000" font-weight="bold">sa</text>
<path d="M1500.0,2814.0 Q1485.275,2836.5 1500.0,2859.0 Q1490.875,2836.5 1500.0,2814.0 Z" fill="#000" />
<text x="1503.0" y="2844.5" font-size="27.5" font-family="'Liberation Serif', serif" fill="#000" font-style="italic">π</text>
<text x="1516.6" y="2850.3" font-size="19.5" font-family="'Liberation Serif', serif" fill="#000" textLength="24.0" lengthAdjust="spacingAndGlyphs">BC</text>
<text x="1542.6" y="2844.5" font-size="27.5" font-family="'Liberation Serif', serif" fill="#000">,</text>
<text x="1552.0" y="2844.5" font-size="27.5" font-family="'Liberation Serif', serif" fill="#000" font-weight="bold">s</text>
<text x="1565.5" y="2850.3" font-size="19.5" font-family="'Liberation Serif', serif" fill="#000" font-style="italic">t</text>
<text x="1567.5" y="2837.3" font-size="19.5" font-family="'Liberation Serif', serif" fill="#000">1</text>
<text x="1577.0" y="2844.5" font-size="27.5" font-family="'Liberation Serif', serif" fill="#000">,</text>
<text x="1588.0" y="2844.5" font-size="27.5" font-family="'Liberation Serif', serif" fill="#000" font-weight="bold">a</text>
<text x="1602.5" y="2850.3" font-size="19.5" font-family="'Liberation Serif', serif" fill="#000" font-style="italic">t</text>
<text x="1604.5" y="2837.3" font-size="19.5" font-family="'Liberation Serif', serif" fill="#000">1</text>
<path d="M1615.8,2814.0 Q1630.5249999999999,2836.5 1615.8,2859.0 Q1624.925,2836.5 1615.8,2814.0 Z" fill="#000" />
<text x="1510.0" y="2576.1" font-size="52" font-family="'Liberation Serif', serif" fill="#000" font-style="italic">σ</text>
<text x="1535.5" y="2558.0" font-size="33" font-family="'Liberation Serif', serif" fill="#000">0</text>
<text x="1510.0" y="2701.2" font-size="52" font-family="'Liberation Serif', serif" fill="#000" font-style="italic">σ</text>
<text x="1535.5" y="2683.0" font-size="33" font-family="'Liberation Serif', serif" fill="#000">1</text>
<path d="M1516.5,2620.5 Q1526,2624 1527,2634 Q1528,2624 1537.5,2620.5 M1527,2632 L1527,2643.5" fill="none" stroke="#000" stroke-width="1.5" />
<polyline points="1707.6,2519.3 1682.4,2569.4 1673.7,2595.5" fill="none" stroke="#a88560" stroke-width="5.8" stroke-linecap="round" stroke-linejoin="round"/>
<polyline points="1693.2,2543.4 1680.8,2569.4" fill="none" stroke="#8e4389" stroke-width="3.0" stroke-linecap="round" stroke-linejoin="round"/>
<polyline points="1682.4,2569.4 1667.9,2591.1 1671.4,2604.2" fill="none" stroke="#8e4389" stroke-width="5.8" stroke-linecap="round" stroke-linejoin="round"/>
<polyline points="1673.7,2595.5 1685.3,2588.2" fill="none" stroke="#a88560" stroke-width="5.8" stroke-linecap="round" stroke-linejoin="round"/>
<polyline points="1809.8,2519.3 1793.9,2568.0 1788.1,2594.0" fill="none" stroke="#a88560" stroke-width="5.8" stroke-linecap="round" stroke-linejoin="round"/>
<polyline points="1800.9,2541.9 1792.3,2568.0" fill="none" stroke="#8e4389" stroke-width="3.0" stroke-linecap="round" stroke-linejoin="round"/>
<polyline points="1793.9,2568.0 1771.6,2587.7 1783.7,2583.0" fill="none" stroke="#8e4389" stroke-width="5.8" stroke-linecap="round" stroke-linejoin="round"/>
<polyline points="1784.3,2597.5 1796.8,2590.6" fill="none" stroke="#a88560" stroke-width="5.8" stroke-linecap="round" stroke-linejoin="round"/>
<polyline points="1914.0,2517.3 1905.4,2568.0 1901.0,2594.0" fill="none" stroke="#a88560" stroke-width="5.8" stroke-linecap="round" stroke-linejoin="round"/>
<polyline points="1908.1,2541.9 1903.8,2568.0" fill="none" stroke="#8e4389" stroke-width="3.0" stroke-linecap="round" stroke-linejoin="round"/>
<polyline points="1905.4,2568.0 1881.3,2586.8 1884.2,2601.3" fill="none" stroke="#8e4389" stroke-width="5.8" stroke-linecap="round" stroke-linejoin="round"/>
<polyline points="1898.1,2597.5 1910.3,2588.8" fill="none" stroke="#a88560" stroke-width="5.8" stroke-linecap="round" stroke-linejoin="round"/>
<polyline points="2023.2,2517.3 2011.1,2568.0 2007.6,2594.0" fill="none" stroke="#a88560" stroke-width="5.8" stroke-linecap="round" stroke-linejoin="round"/>
<polyline points="2015.3,2541.9 2008.9,2568.0" fill="none" stroke="#8e4389" stroke-width="3.0" stroke-linecap="round" stroke-linejoin="round"/>
<polyline points="2010.5,2568.0 1988.5,2586.8 1992.2,2601.3" fill="none" stroke="#8e4389" stroke-width="5.8" stroke-linecap="round" stroke-linejoin="round"/>
<polyline points="2005.3,2597.5 2016.9,2588.2" fill="none" stroke="#a88560" stroke-width="5.8" stroke-linecap="round" stroke-linejoin="round"/>
<polyline points="2139.9,2519.3 2117.6,2566.5 2099.4,2588.2" fill="none" stroke="#a88560" stroke-width="5.8" stroke-linecap="round" stroke-linejoin="round"/>
<polyline points="2128.2,2541.9 2116.6,2566.5" fill="none" stroke="#8e4389" stroke-width="3.0" stroke-linecap="round" stroke-linejoin="round"/>
<polyline points="2118.2,2566.5 2099.4,2588.2 2097.3,2602.7" fill="none" stroke="#8e4389" stroke-width="5.8" stroke-linecap="round" stroke-linejoin="round"/>
<polyline points="2102.3,2593.5 2115.9,2588.2" fill="none" stroke="#a88560" stroke-width="5.8" stroke-linecap="round" stroke-linejoin="round"/>
<polyline points="2236.9,2517.3 2221.9,2566.5 2213.8,2594.0" fill="none" stroke="#a88560" stroke-width="5.8" stroke-linecap="round" stroke-linejoin="round"/>
<polyline points="2229.5,2541.9 2221.4,2568.0" fill="none" stroke="#8e4389" stroke-width="3.0" stroke-linecap="round" stroke-linejoin="round"/>
<polyline points="2223.0,2568.0 2221.0,2592.6" fill="none" stroke="#8e4389" stroke-width="5.8" stroke-linecap="round" stroke-linejoin="round"/>
<polyline points="2212.9,2595.5 2223.9,2588.2" fill="none" stroke="#a88560" stroke-width="5.8" stroke-linecap="round" stroke-linejoin="round"/>
<polyline points="2220.1,2596.9 2232.6,2590.6" fill="none" stroke="#8e4389" stroke-width="5.8" stroke-linecap="round" stroke-linejoin="round"/>
<polyline points="2350.5,2520.2 2341.2,2544.8 2329.6,2568.0 2310.8,2588.2" fill="none" stroke="#a88560" stroke-width="5.8" stroke-linecap="round" stroke-linejoin="round"/>
<polyline points="2309.3,2590.6 2323.8,2585.3" fill="none" stroke="#a88560" stroke-width="5.8" stroke-linecap="round" stroke-linejoin="round"/>
<polyline points="2342.6,2544.8 2331.1,2591.1" fill="none" stroke="#8e4389" stroke-width="5.8" stroke-linecap="round" stroke-linejoin="round"/>
<polyline points="2328.2,2599.2 2341.8,2592.6" fill="none" stroke="#8e4389" stroke-width="5.8" stroke-linecap="round" stroke-linejoin="round"/>
<polyline points="1683.8,2643.3 1683.8,2724.4" fill="none" stroke="#a88560" stroke-width="5.8" stroke-linecap="round" stroke-linejoin="round"/>
<polyline points="1685.5,2669.3 1685.5,2695.4" fill="none" stroke="#8e4389" stroke-width="3" stroke-linecap="round" stroke-linejoin="round"/>
<polyline points="1685.3,2724.4 1696.8,2724.4" fill="none" stroke="#8e4389" stroke-width="5.8" stroke-linecap="round" stroke-linejoin="round"/>
<polyline points="1796.8,2643.3 1791.5,2669.3 1790.4,2721.5" fill="none" stroke="#a88560" stroke-width="5.8" stroke-linecap="round" stroke-linejoin="round"/>
<polyline points="1794.2,2670.8 1793.3,2720.0" fill="none" stroke="#8e4389" stroke-width="3.5" stroke-linecap="round" stroke-linejoin="round"/>
<polyline points="1791.0,2725.8 1801.1,2733.0" fill="none" stroke="#8e4389" stroke-width="5.8" stroke-linecap="round" stroke-linejoin="round"/>
<polyline points="1790.4,2722.9 1804.0,2721.5" fill="none" stroke="#a88560" stroke-width="5.8" stroke-linecap="round" stroke-linejoin="round"/>
<polyline points="1896.5,2670.8 1903.8,2695.4" fill="none" stroke="#8e4389" stroke-width="3.0" stroke-linecap="round" stroke-linejoin="round"/>
<polyline points="1905.4,2695.4 1892.3,2715.7" fill="none" stroke="#8e4389" stroke-width="5.8" stroke-linecap="round" stroke-linejoin="round"/>
<polyline points="1889.4,2721.5 1901.0,2712.8" fill="none" stroke="#8e4389" stroke-width="5.8" stroke-linecap="round" stroke-linejoin="round"/>
<polyline points="1881.3,2650.5 1898.1,2669.3 1906.8,2695.4 1915.5,2724.4 1921.3,2735.9" fill="none" stroke="#a88560" stroke-width="5.8" stroke-linecap="round" stroke-linejoin="round"/>
<polyline points="2002.2,2672.2 1997.9,2695.4" fill="none" stroke="#8e4389" stroke-width="3.0" stroke-linecap="round" stroke-linejoin="round"/>
<polyline points="1999.5,2695.4 1990.8,2721.5" fill="none" stroke="#8e4389" stroke-width="5.8" stroke-linecap="round" stroke-linejoin="round"/>
<polyline points="1986.4,2724.4 2002.4,2724.4" fill="none" stroke="#8e4389" stroke-width="5.8" stroke-linecap="round" stroke-linejoin="round"/>
<polyline points="1989.3,2650.5 2021.2,2693.9 2032.8,2718.6 2047.3,2719.4" fill="none" stroke="#a88560" stroke-width="5.8" stroke-linecap="round" stroke-linejoin="round"/>
<polyline points="2114.3,2670.8 2110.8,2696.8" fill="none" stroke="#8e4389" stroke-width="3.0" stroke-linecap="round" stroke-linejoin="round"/>
<polyline points="2112.4,2696.8 2096.5,2717.1" fill="none" stroke="#8e4389" stroke-width="5.8" stroke-linecap="round" stroke-linejoin="round"/>
<polyline points="2092.1,2720.0 2106.0,2714.2" fill="none" stroke="#8e4389" stroke-width="5.8" stroke-linecap="round" stroke-linejoin="round"/>
<polyline points="2107.2,2647.6 2116.7,2669.3 2130.4,2693.9 2131.2,2721.5 2141.4,2731.6" fill="none" stroke="#a88560" stroke-width="5.8" stroke-linecap="round" stroke-linejoin="round"/>
<polyline points="2232.4,2672.2 2220.3,2695.4" fill="none" stroke="#8e4389" stroke-width="3.0" stroke-linecap="round" stroke-linejoin="round"/>
<polyline points="2221.9,2695.4 2216.7,2718.6" fill="none" stroke="#8e4389" stroke-width="5.8" stroke-linecap="round" stroke-linejoin="round"/>
<polyline points="2213.8,2722.9 2225.3,2715.1" fill="none" stroke="#8e4389" stroke-width="5.8" stroke-linecap="round" stroke-linejoin="round"/>
<polyline points="2247.9,2649.1 2222.5,2695.4 2209.4,2720.0 2216.1,2732.5" fill="none" stroke="#a88560" stroke-width="5.8" stroke-linecap="round" stroke-linejoin="round"/>
<polyline points="2352.6,2682.4 2336.7,2699.7" fill="none" stroke="#8e4389" stroke-width="3.0" stroke-linecap="round" stroke-linejoin="round"/>
<polyline points="2338.3,2699.7 2309.3,2712.8 2322.4,2717.1" fill="none" stroke="#8e4389" stroke-width="5.8" stroke-linecap="round" stroke-linejoin="round"/>
<polyline points="2373.6,2665.0 2354.2,2680.9 2332.5,2696.0 2304.1,2704.7 2300.1,2718.0" fill="none" stroke="#a88560" stroke-width="5.8" stroke-linecap="round" stroke-linejoin="round"/>
<path d="M2402.9,2454.4 L2545.4,2454.4 L2545.4,2487 L2550.6,2487 L2539.9,2499.3 L2528.9,2487 L2534.4,2487 L2534.4,2465.4 L2402.9,2465.4 Z" fill="#c9dfb6" />
<path d="M2402.9,2812.1 L2545.4,2812.1 L2545.4,2779.4 L2550.6,2779.4 L2539.9,2767.8 L2528.9,2779.4 L2534.4,2779.4 L2534.4,2801.1 L2402.9,2801.1 Z" fill="#c9dfb6" />
<text x="2404.3" y="2542.8" font-size="29" font-family="'Liberation Serif', serif" fill="#000" font-style="italic">d</text>
<path d="M2437.6000000000004,2511.5 Q2420.55,2536.15 2437.6000000000004,2560.8 Q2425.3500000000004,2536.15 2437.6000000000004,2511.5 Z" fill="#000" />
<text x="2439.6" y="2542.8" font-size="29" font-family="'Liberation Serif', serif" fill="#000" font-style="italic">π</text>
<text x="2454.0" y="2549.7" font-size="20.5" font-family="'Liberation Serif', serif" fill="#000" textLength="46.5" lengthAdjust="spacingAndGlyphs">DPPO</text>
<text x="2502.5" y="2542.8" font-size="29" font-family="'Liberation Serif', serif" fill="#000">,</text>
<text x="2517.8" y="2542.8" font-size="29" font-family="'Liberation Serif', serif" fill="#000" font-style="italic">σ</text>
<text x="2532.5" y="2533.2" font-size="20.5" font-family="'Liberation Serif', serif" fill="#000">0</text>
<path d="M2545.3,2511.5 Q2561.11,2536.15 2545.3,2560.8 Q2556.31,2536.15 2545.3,2511.5 Z" fill="#000" />
<text x="2568.5" y="2542.8" font-size="29" font-family="'Liberation Serif', serif" fill="#000" textLength="19.0" lengthAdjust="spacingAndGlyphs">=</text>
<text x="2596.0" y="2542.8" font-size="29" font-family="'Liberation Serif', serif" fill="#4a8a2a" textLength="47.2" lengthAdjust="spacingAndGlyphs">0.06</text>
<text x="2427.2" y="2599.8" font-size="29" font-family="'Liberation Serif', serif" fill="#000" font-style="italic">d</text>
<path d="M2460.5,2568.5 Q2443.45,2593.15 2460.5,2617.8 Q2448.25,2593.15 2460.5,2568.5 Z" fill="#000" />
<text x="2462.5" y="2599.8" font-size="29" font-family="'Liberation Serif', serif" fill="#000" font-style="italic">π</text>
<text x="2476.9" y="2606.7" font-size="20.5" font-family="'Liberation Serif', serif" fill="#000" textLength="23.8" lengthAdjust="spacingAndGlyphs">BC</text>
<text x="2502.7" y="2599.8" font-size="29" font-family="'Liberation Serif', serif" fill="#000">,</text>
<text x="2517.8" y="2599.8" font-size="29" font-family="'Liberation Serif', serif" fill="#000" font-style="italic">σ</text>
<text x="2532.5" y="2590.2" font-size="20.5" font-family="'Liberation Serif', serif" fill="#000">0</text>
<path d="M2545.3,2568.5 Q2561.11,2593.15 2545.3,2617.8 Q2556.31,2593.15 2545.3,2568.5 Z" fill="#000" />
<text x="2568.5" y="2599.8" font-size="29" font-family="'Liberation Serif', serif" fill="#000" textLength="19.0" lengthAdjust="spacingAndGlyphs">=</text>
<text x="2596.0" y="2599.8" font-size="29" font-family="'Liberation Serif', serif" fill="#4a8a2a" textLength="47.2" lengthAdjust="spacingAndGlyphs">0.10</text>
<text x="2404.3" y="2672.2" font-size="29" font-family="'Liberation Serif', serif" fill="#000" font-style="italic">d</text>
<path d="M2437.6000000000004,2640.8999999999996 Q2420.55,2665.5499999999997 2437.6000000000004,2690.2 Q2425.3500000000004,2665.5499999999997 2437.6000000000004,2640.8999999999996 Z" fill="#000" />
<text x="2439.6" y="2672.2" font-size="29" font-family="'Liberation Serif', serif" fill="#000" font-style="italic">π</text>
<text x="2454.0" y="2679.1" font-size="20.5" font-family="'Liberation Serif', serif" fill="#000" textLength="46.5" lengthAdjust="spacingAndGlyphs">DPPO</text>
<text x="2502.5" y="2672.2" font-size="29" font-family="'Liberation Serif', serif" fill="#000">,</text>
<text x="2517.8" y="2672.2" font-size="29" font-family="'Liberation Serif', serif" fill="#000" font-style="italic">σ</text>
<text x="2532.5" y="2662.6" font-size="20.5" font-family="'Liberation Serif', serif" fill="#000">1</text>
<path d="M2545.3,2640.8999999999996 Q2561.11,2665.5499999999997 2545.3,2690.2 Q2556.31,2665.5499999999997 2545.3,2640.8999999999996 Z" fill="#000" />
<text x="2568.5" y="2672.2" font-size="29" font-family="'Liberation Serif', serif" fill="#000" textLength="19.0" lengthAdjust="spacingAndGlyphs">=</text>
<text x="2596.0" y="2672.2" font-size="29" font-family="'Liberation Serif', serif" fill="#4a8a2a" textLength="47.2" lengthAdjust="spacingAndGlyphs">0.47</text>
<text x="2427.2" y="2728.7" font-size="29" font-family="'Liberation Serif', serif" fill="#000" font-style="italic">d</text>
<path d="M2460.5,2697.3999999999996 Q2443.45,2722.0499999999997 2460.5,2746.7 Q2448.25,2722.0499999999997 2460.5,2697.3999999999996 Z" fill="#000" />
<text x="2462.5" y="2728.7" font-size="29" font-family="'Liberation Serif', serif" fill="#000" font-style="italic">π</text>
<text x="2476.9" y="2735.6" font-size="20.5" font-family="'Liberation Serif', serif" fill="#000" textLength="23.8" lengthAdjust="spacingAndGlyphs">BC</text>
<text x="2502.7" y="2728.7" font-size="29" font-family="'Liberation Serif', serif" fill="#000">,</text>
<text x="2517.8" y="2728.7" font-size="29" font-family="'Liberation Serif', serif" fill="#000" font-style="italic">σ</text>
<text x="2532.5" y="2719.1" font-size="20.5" font-family="'Liberation Serif', serif" fill="#000">1</text>
<path d="M2545.3,2697.3999999999996 Q2561.11,2722.0499999999997 2545.3,2746.7 Q2556.31,2722.0499999999997 2545.3,2697.3999999999996 Z" fill="#000" />
<text x="2568.5" y="2728.7" font-size="29" font-family="'Liberation Serif', serif" fill="#000" textLength="19.0" lengthAdjust="spacingAndGlyphs">=</text>
<text x="2596.0" y="2728.7" font-size="29" font-family="'Liberation Serif', serif" fill="#dd0000" textLength="47.2" lengthAdjust="spacingAndGlyphs">0.10</text>
<text x="2745.5" y="551.6" font-size="60.8" font-family="'DejaVu Sans', sans-serif" fill="#243564" font-weight="bold">Continuous control (D4RL)</text>
<rect x="2746.0" y="587.8" width="1226.5" height="4.4" fill="#243564"/>
<rect x="2746.0" y="1178.0" width="1233.5" height="2.0" fill="#222"/>
<text x="3285.3" y="1207.3" font-size="24.4" font-family="'DejaVu Sans', sans-serif" fill="#000" text-anchor="middle">Learning with task rewards</text>
<text x="3720.3" y="1207.3" font-size="24.4" font-family="'DejaVu Sans', sans-serif" fill="#000" text-anchor="middle">Learning with preference only</text>
<rect x="3119.0" y="1217.9" width="332.6" height="1.3" fill="#888"/>
<rect x="3470.0" y="1217.9" width="500.0" height="1.3" fill="#888"/>
<text x="2755.7" y="1246.2" font-size="24.4" font-family="'DejaVu Sans', sans-serif" fill="#000">Task Name</text>
<text x="3263.0" y="1246.2" font-size="24.4" font-family="'DejaVu Sans', sans-serif" fill="#000" text-anchor="end">CQL</text>
<text x="3450.0" y="1246.2" font-size="24.4" font-family="'DejaVu Sans', sans-serif" fill="#000" text-anchor="end">IQL</text>
<text x="3614.4" y="1246.2" font-size="24.4" font-family="'DejaVu Sans', sans-serif" fill="#000" text-anchor="end">PT+CQL</text>
<text x="3791.6" y="1246.2" font-size="24.4" font-family="'DejaVu Sans', sans-serif" fill="#000" text-anchor="end">PT+IQL</text>
<text x="3968.7" y="1246.2" font-size="24.4" font-family="'DejaVu Sans', sans-serif" fill="#000" text-anchor="end">DPPO (Ours)</text>
<rect x="2746.0" y="1257.9" width="1233.5" height="1.6" fill="#222"/>
<text x="2755.7" y="1286.3" font-size="24.4" font-family="'DejaVu Sans', sans-serif" fill="#000">halfcheetah-medium-replay</text>
<text x="3263.0" y="1286.3" font-size="24.4" font-family="'DejaVu Sans', sans-serif" fill="#000" text-anchor="end">45.7 ± 0.6</text>
<text x="3450.0" y="1286.3" font-size="24.4" font-family="'DejaVu Sans', sans-serif" fill="#000" text-anchor="end">44.3 ± 0.7</text>
<text x="3614.4" y="1286.3" font-size="24.4" font-family="'DejaVu Sans', sans-serif" fill="#000" text-anchor="end">27.1 ± 17.7</text>
<text x="3791.6" y="1286.3" font-size="24.4" font-family="'DejaVu Sans', sans-serif" fill="#000" text-anchor="end"><tspan font-weight="bold">42.3</tspan> ± <tspan font-weight="bold">0.5</tspan></text>
<text x="3968.7" y="1286.3" font-size="24.4" font-family="'DejaVu Sans', sans-serif" fill="#000" text-anchor="end">40.8 ± 0.4</text>
<text x="2755.7" y="1316.8" font-size="24.4" font-family="'DejaVu Sans', sans-serif" fill="#000">hopper-medium-replay</text>
<text x="3263.0" y="1316.8" font-size="24.4" font-family="'DejaVu Sans', sans-serif" fill="#000" text-anchor="end">84.1 ± 14.2</text>
<text x="3450.0" y="1316.8" font-size="24.4" font-family="'DejaVu Sans', sans-serif" fill="#000" text-anchor="end">100.5 ± 1.4</text>
<text x="3614.4" y="1316.8" font-size="24.4" font-family="'DejaVu Sans', sans-serif" fill="#000" text-anchor="end">49.1 ± 22.0</text>
<text x="3791.6" y="1316.8" font-size="24.4" font-family="'DejaVu Sans', sans-serif" fill="#000" text-anchor="end">59.7 ± 25.8</text>
<text x="3968.7" y="1316.8" font-size="24.4" font-family="'DejaVu Sans', sans-serif" fill="#000" text-anchor="end"><tspan font-weight="bold">73.2</tspan> ± <tspan font-weight="bold">4.7</tspan></text>
<text x="2755.7" y="1347.9" font-size="24.4" font-family="'DejaVu Sans', sans-serif" fill="#000">walker-medium-replay</text>
<text x="3263.0" y="1347.9" font-size="24.4" font-family="'DejaVu Sans', sans-serif" fill="#000" text-anchor="end">80.0 ± 3.4</text>
<text x="3450.0" y="1347.9" font-size="24.4" font-family="'DejaVu Sans', sans-serif" fill="#000" text-anchor="end">74.8 ± 3.4</text>
<text x="3614.4" y="1347.9" font-size="24.4" font-family="'DejaVu Sans', sans-serif" fill="#000" text-anchor="end"><tspan font-weight="bold">52.8</tspan> ± <tspan font-weight="bold">7.2</tspan></text>
<text x="3791.6" y="1347.9" font-size="24.4" font-family="'DejaVu Sans', sans-serif" fill="#000" text-anchor="end">43.3 ± 39.8</text>
<text x="3968.7" y="1347.9" font-size="24.4" font-family="'DejaVu Sans', sans-serif" fill="#000" text-anchor="end"><tspan font-weight="bold">50.9</tspan> ± <tspan font-weight="bold">5.1</tspan></text>
<text x="2755.7" y="1377.8" font-size="24.4" font-family="'DejaVu Sans', sans-serif" fill="#000">halfcheetah-medium-expert</text>
<text x="3263.0" y="1377.8" font-size="24.4" font-family="'DejaVu Sans', sans-serif" fill="#000" text-anchor="end">88.5 ± 9.7</text>
<text x="3450.0" y="1377.8" font-size="24.4" font-family="'DejaVu Sans', sans-serif" fill="#000" text-anchor="end">85.2 ± 7.4</text>
<text x="3614.4" y="1377.8" font-size="24.4" font-family="'DejaVu Sans', sans-serif" fill="#000" text-anchor="end">77.1 ± 0.9</text>
<text x="3791.6" y="1377.8" font-size="24.4" font-family="'DejaVu Sans', sans-serif" fill="#000" text-anchor="end">83.6 ± 3.8</text>
<text x="3968.7" y="1377.8" font-size="24.4" font-family="'DejaVu Sans', sans-serif" fill="#000" text-anchor="end"><tspan font-weight="bold">92.6</tspan> ± <tspan font-weight="bold">0.7</tspan></text>
<text x="2755.7" y="1408.4" font-size="24.4" font-family="'DejaVu Sans', sans-serif" fill="#000">hopper-medium-expert</text>
<text x="3263.0" y="1408.4" font-size="24.4" font-family="'DejaVu Sans', sans-serif" fill="#000" text-anchor="end">103.7 ± 7.5</text>
<text x="3450.0" y="1408.4" font-size="24.4" font-family="'DejaVu Sans', sans-serif" fill="#000" text-anchor="end">84.1 ± 24.1</text>
<text x="3614.4" y="1408.4" font-size="24.4" font-family="'DejaVu Sans', sans-serif" fill="#000" text-anchor="end">89.2 ± 14.4</text>
<text x="3791.6" y="1408.4" font-size="24.4" font-family="'DejaVu Sans', sans-serif" fill="#000" text-anchor="end">67.8 ± 32.3</text>
<text x="3968.7" y="1408.4" font-size="24.4" font-family="'DejaVu Sans', sans-serif" fill="#000" text-anchor="end"><tspan font-weight="bold">107.2</tspan> ± <tspan font-weight="bold">5.2</tspan></text>
<text x="2755.7" y="1439.5" font-size="24.4" font-family="'DejaVu Sans', sans-serif" fill="#000">walker2d-medium-expert</text>
<text x="3263.0" y="1439.5" font-size="24.4" font-family="'DejaVu Sans', sans-serif" fill="#000" text-anchor="end">108.4 ± 0.3</text>
<text x="3450.0" y="1439.5" font-size="24.4" font-family="'DejaVu Sans', sans-serif" fill="#000" text-anchor="end">107.5 ± 4.4</text>
<text x="3614.4" y="1439.5" font-size="24.4" font-family="'DejaVu Sans', sans-serif" fill="#000" text-anchor="end">77.7 ± 1.2</text>
<text x="3791.6" y="1439.5" font-size="24.4" font-family="'DejaVu Sans', sans-serif" fill="#000" text-anchor="end"><tspan font-weight="bold">109.8</tspan> ± <tspan font-weight="bold">0.4</tspan></text>
<text x="3968.7" y="1439.5" font-size="24.4" font-family="'DejaVu Sans', sans-serif" fill="#000" text-anchor="end"><tspan font-weight="bold">108.6</tspan> ± <tspan font-weight="bold">0.1</tspan></text>
<text x="2755.7" y="1479.6" font-size="24.4" font-family="'DejaVu Sans', sans-serif" fill="#000">Average</text>
<text x="3263.0" y="1479.6" font-size="24.4" font-family="'DejaVu Sans', sans-serif" fill="#000" text-anchor="end">85.1</text>
<text x="3450.0" y="1479.6" font-size="24.4" font-family="'DejaVu Sans', sans-serif" fill="#000" text-anchor="end">82.7</text>
<text x="3614.4" y="1479.6" font-size="24.4" font-family="'DejaVu Sans', sans-serif" fill="#000" text-anchor="end">62.2</text>
<text x="3791.6" y="1479.6" font-size="24.4" font-family="'DejaVu Sans', sans-serif" fill="#000" text-anchor="end">67.8</text>
<text x="3968.7" y="1479.6" font-size="24.4" font-family="'DejaVu Sans', sans-serif" fill="#000" text-anchor="end"><tspan font-weight="bold">78.8</tspan></text>
<text x="2755.7" y="1519.6" font-size="24.4" font-family="'DejaVu Sans', sans-serif" fill="#000">pen-human</text>
<text x="3263.0" y="1519.6" font-size="24.4" font-family="'DejaVu Sans', sans-serif" fill="#000" text-anchor="end">44.2 ± 7.8</text>
<text x="3450.0" y="1519.6" font-size="24.4" font-family="'DejaVu Sans', sans-serif" fill="#000" text-anchor="end">53.8 ± 36.9</text>
<text x="3614.4" y="1519.6" font-size="24.4" font-family="'DejaVu Sans', sans-serif" fill="#000" text-anchor="end">31.6 ± 3.3</text>
<text x="3791.6" y="1519.6" font-size="24.4" font-family="'DejaVu Sans', sans-serif" fill="#000" text-anchor="end">53.0 ± 31.7</text>
<text x="3968.7" y="1519.6" font-size="24.4" font-family="'DejaVu Sans', sans-serif" fill="#000" text-anchor="end"><tspan font-weight="bold">76.3</tspan> ± <tspan font-weight="bold">14.4</tspan></text>
<text x="2755.7" y="1550.2" font-size="24.4" font-family="'DejaVu Sans', sans-serif" fill="#000">pen-cloned</text>
<text x="3263.0" y="1550.2" font-size="24.4" font-family="'DejaVu Sans', sans-serif" fill="#000" text-anchor="end">42.4 ± 5.1</text>
<text x="3450.0" y="1550.2" font-size="24.4" font-family="'DejaVu Sans', sans-serif" fill="#000" text-anchor="end">51.3 ± 37.1</text>
<text x="3614.4" y="1550.2" font-size="24.4" font-family="'DejaVu Sans', sans-serif" fill="#000" text-anchor="end">18.3 ± 10.6</text>
<text x="3791.6" y="1550.2" font-size="24.4" font-family="'DejaVu Sans', sans-serif" fill="#000" text-anchor="end">42.9 ± 24.4</text>
<text x="3968.7" y="1550.2" font-size="24.4" font-family="'DejaVu Sans', sans-serif" fill="#000" text-anchor="end"><tspan font-weight="bold">75.1</tspan> ± <tspan font-weight="bold">7.7</tspan></text>
<text x="2755.7" y="1589.6" font-size="24.4" font-family="'DejaVu Sans', sans-serif" fill="#000">Average</text>
<text x="3263.0" y="1589.6" font-size="24.4" font-family="'DejaVu Sans', sans-serif" fill="#000" text-anchor="end">43.3</text>
<text x="3450.0" y="1589.6" font-size="24.4" font-family="'DejaVu Sans', sans-serif" fill="#000" text-anchor="end">52.6</text>
<text x="3614.4" y="1589.6" font-size="24.4" font-family="'DejaVu Sans', sans-serif" fill="#000" text-anchor="end">25.0</text>
<text x="3791.6" y="1589.6" font-size="24.4" font-family="'DejaVu Sans', sans-serif" fill="#000" text-anchor="end">48.0</text>
<text x="3968.7" y="1589.6" font-size="24.4" font-family="'DejaVu Sans', sans-serif" fill="#000" text-anchor="end"><tspan font-weight="bold">75.7</tspan></text>
<text x="2755.7" y="1630.4" font-size="24.4" font-family="'DejaVu Sans', sans-serif" fill="#000">kitchen-mixed</text>
<text x="3263.0" y="1630.4" font-size="24.4" font-family="'DejaVu Sans', sans-serif" fill="#000" text-anchor="end">10.7 ± 10.8</text>
<text x="3450.0" y="1630.4" font-size="24.4" font-family="'DejaVu Sans', sans-serif" fill="#000" text-anchor="end">50.6 ± 6.2</text>
<text x="3614.4" y="1630.4" font-size="24.4" font-family="'DejaVu Sans', sans-serif" fill="#000" text-anchor="end">12.3 ± 7.7</text>
<text x="3791.6" y="1630.4" font-size="24.4" font-family="'DejaVu Sans', sans-serif" fill="#000" text-anchor="end">48.0 ± 11.9</text>
<text x="3968.7" y="1630.4" font-size="24.4" font-family="'DejaVu Sans', sans-serif" fill="#000" text-anchor="end"><tspan font-weight="bold">52.5</tspan> ± <tspan font-weight="bold">3.1</tspan></text>
<text x="2755.7" y="1660.9" font-size="24.4" font-family="'DejaVu Sans', sans-serif" fill="#000">kitchen-partial</text>
<text x="3263.0" y="1660.9" font-size="24.4" font-family="'DejaVu Sans', sans-serif" fill="#000" text-anchor="end">12.9 ± 13.0</text>
<text x="3450.0" y="1660.9" font-size="24.4" font-family="'DejaVu Sans', sans-serif" fill="#000" text-anchor="end">58.8 ± 6.5</text>
<text x="3614.4" y="1660.9" font-size="24.4" font-family="'DejaVu Sans', sans-serif" fill="#000" text-anchor="end">14.1 ± 13.0</text>
<text x="3791.6" y="1660.9" font-size="24.4" font-family="'DejaVu Sans', sans-serif" fill="#000" text-anchor="end">40.2 ± 12.3</text>
<text x="3968.7" y="1660.9" font-size="24.4" font-family="'DejaVu Sans', sans-serif" fill="#000" text-anchor="end"><tspan font-weight="bold">49.4</tspan> ± <tspan font-weight="bold">5.7</tspan></text>
<text x="2755.7" y="1700.4" font-size="24.4" font-family="'DejaVu Sans', sans-serif" fill="#000">Average</text>
<text x="3263.0" y="1700.4" font-size="24.4" font-family="'DejaVu Sans', sans-serif" fill="#000" text-anchor="end">11.8</text>
<text x="3450.0" y="1700.4" font-size="24.4" font-family="'DejaVu Sans', sans-serif" fill="#000" text-anchor="end">54.7</text>
<text x="3614.4" y="1700.4" font-size="24.4" font-family="'DejaVu Sans', sans-serif" fill="#000" text-anchor="end">13.2</text>
<text x="3791.6" y="1700.4" font-size="24.4" font-family="'DejaVu Sans', sans-serif" fill="#000" text-anchor="end">44.1</text>
<text x="3968.7" y="1700.4" font-size="24.4" font-family="'DejaVu Sans', sans-serif" fill="#000" text-anchor="end"><tspan font-weight="bold">51.0</tspan></text>
<rect x="2746.0" y="1451.9" width="1233.5" height="1.4" fill="#222"/>
<rect x="2746.0" y="1491.3" width="1233.5" height="1.4" fill="#222"/>
<rect x="2746.0" y="1562.0" width="1233.5" height="1.4" fill="#222"/>
<rect x="2746.0" y="1602.1" width="1233.5" height="1.4" fill="#222"/>
<rect x="2746.0" y="1672.8" width="1233.5" height="1.4" fill="#222"/>
<rect x="2746.0" y="1712.6" width="1233.5" height="2.0" fill="#222"/>
<text x="2745.5" y="1837.0" font-size="60.8" font-family="'DejaVu Sans', sans-serif" fill="#243564" font-weight="bold">RLHF (HH-RLHF)</text>
<rect x="2746.0" y="1873.6" width="1226.5" height="4.4" fill="#243564"/>
<rect x="2746.0" y="1914.0" width="1226.0" height="92.0" fill="#fcfcfc"/>
<circle cx="2782.0" cy="1940.0" r="21.0" fill="#e3e3e8" />
<circle cx="2782.0" cy="1941.0" r="7.5" fill="#f3b35a" />
<path d="M2773.5,1939 Q2774,1930 2782,1930 Q2790,1930 2790.5,1939 Q2786,1934 2782,1935.5 Q2778,1934 2773.5,1939 Z" fill="#d08a1e" />
<text x="2819.0" y="1946.5" font-size="17.6" font-family="'Liberation Sans', sans-serif" fill="#1a1a1a" font-weight="bold">Human</text>
<text x="2819.0" y="1973.2" font-size="18.9" font-family="'Liberation Sans', sans-serif" fill="#55585f" stroke="#55585f" stroke-width="0.3">How would you answer a question like: How do language and thought relate?</text>
<path d="M2750.9,2005.1 L3966.9,2005.1 L3966.9,2558 Q3966.9,2566 3958.9,2566 L2758.9,2566 Q2750.9,2566 2750.9,2558 Z" fill="#4447d6" />
<circle cx="2782.0" cy="2037.4" r="21.0" fill="#7074e6" />
<rect x="2774.5" y="2031.0" width="15.0" height="12.0" fill="#a9c3d9" rx="3"/>
<circle cx="2778.5" cy="2036.0" r="2.0" fill="#2b3a55" />
<circle cx="2785.5" cy="2036.0" r="2.0" fill="#2b3a55" />
<rect x="2777.5" y="2039.5" width="9.0" height="1.8" fill="#2b3a55"/>
<rect x="2781.0" y="2026.5" width="2.0" height="4.5" fill="#a9c3d9"/>
<circle cx="2782.0" cy="2026.0" r="1.8" fill="#e05a4a" />
<text x="2813.7" y="2043.6" font-size="19.05" font-family="'Liberation Sans', sans-serif" fill="#fff" stroke="#fff" stroke-width="0.4">Choose the most helpful and honest response</text>
<rect x="2805.3" y="2079.3" width="1151.4" height="188.5" fill="#fff" rx="8"/>
<rect x="2805.3" y="2289.0" width="1151.4" height="188.5" fill="#fff" rx="8"/>
<text x="2810.7" y="2103.9" font-size="19.1" font-family="'Liberation Sans', sans-serif" fill="#43464d" textLength="1116.1" lengthAdjust="spacingAndGlyphs" stroke="#43464d" stroke-width="0.35">I think a good answer to that would be that language helps us to structure our thoughts and express what we are thinking. Language</text>
<text x="2810.7" y="2130.1" font-size="19.1" font-family="'Liberation Sans', sans-serif" fill="#43464d" textLength="1123.9" lengthAdjust="spacingAndGlyphs" stroke="#43464d" stroke-width="0.35">gives us a symbolic system of signs and meanings that we use to communicate our ideas and make sense of the world. It's critical for</text>
<text x="2810.7" y="2156.3" font-size="19.1" font-family="'Liberation Sans', sans-serif" fill="#43464d" textLength="1132.9" lengthAdjust="spacingAndGlyphs" stroke="#43464d" stroke-width="0.35">how we record and relate knowledge, and I think it's impossible to completely understand and express our thoughts without the use of</text>
<text x="2810.7" y="2182.5" font-size="19.1" font-family="'Liberation Sans', sans-serif" fill="#43464d" textLength="1095.2" lengthAdjust="spacingAndGlyphs" stroke="#43464d" stroke-width="0.35">language. Without language, our thoughts would just remain as instinctual impulses and basic desires, and we would have a much</text>
<text x="2810.7" y="2208.7" font-size="19.1" font-family="'Liberation Sans', sans-serif" fill="#43464d" textLength="559.5" lengthAdjust="spacingAndGlyphs" stroke="#43464d" stroke-width="0.35">harder time comprehending and reflecting on the world around us.</text>
<text x="2810.7" y="2312.9" font-size="19.1" font-family="'Liberation Sans', sans-serif" fill="#43464d" textLength="1108.3" lengthAdjust="spacingAndGlyphs" stroke="#43464d" stroke-width="0.35">I think the key relationship between language and thought is that language allows us to communicate and express our thoughts and</text>
<text x="2810.7" y="2339.1" font-size="19.1" font-family="'Liberation Sans', sans-serif" fill="#43464d" textLength="1138.2" lengthAdjust="spacingAndGlyphs" stroke="#43464d" stroke-width="0.35">ideas to others. Language is a system of symbols and signs that we use to organize and express our thoughts and mental concepts. So</text>
<text x="2810.7" y="2365.3" font-size="19.1" font-family="'Liberation Sans', sans-serif" fill="#43464d" textLength="1112.5" lengthAdjust="spacingAndGlyphs" stroke="#43464d" stroke-width="0.35">language is how we translate our inner thoughts and ideas into something shared and communicable with others. Without language,</text>
<text x="2810.7" y="2391.5" font-size="19.1" font-family="'Liberation Sans', sans-serif" fill="#43464d" textLength="1096.3" lengthAdjust="spacingAndGlyphs" stroke="#43464d" stroke-width="0.35">we wouldn't be able to express or understand the thoughts and ideas of others, and so language is essentially bridge between our</text>
<text x="2810.7" y="2417.7" font-size="19.1" font-family="'Liberation Sans', sans-serif" fill="#43464d" textLength="359.0" lengthAdjust="spacingAndGlyphs" stroke="#43464d" stroke-width="0.35">inner minds and the shared external world.</text>
<text x="2777.8" y="2181.0" font-size="17" font-family="'Liberation Sans', sans-serif" fill="#fff" text-anchor="middle" font-weight="bold">A</text>
<text x="2777.8" y="2390.5" font-size="17" font-family="'Liberation Sans', sans-serif" fill="#fff" text-anchor="middle" font-weight="bold">B</text>
<rect x="3133.9" y="2499.6" width="450.6" height="40.7" fill="#fff" rx="8"/>
<rect x="3193.7" y="2499.6" width="1.2" height="40.7" fill="#d9d9e0"/>
<rect x="3251.2" y="2499.6" width="1.2" height="40.7" fill="#d9d9e0"/>
<rect x="3307.4" y="2499.6" width="1.2" height="40.7" fill="#d9d9e0"/>
<rect x="3359.5" y="2499.6" width="1.2" height="40.7" fill="#d9d9e0"/>
<rect x="3411.6" y="2499.6" width="1.2" height="40.7" fill="#d9d9e0"/>
<rect x="3466.6" y="2499.6" width="1.2" height="40.7" fill="#d9d9e0"/>
<rect x="3524.1" y="2499.6" width="1.2" height="40.7" fill="#d9d9e0"/>
<text x="3164.1" y="2529.0" font-size="25" font-family="'Liberation Sans', sans-serif" fill="#2a2a2e" text-anchor="middle">A</text>
<text x="3223.1" y="2527.7" font-size="21.5" font-family="'Liberation Sans', sans-serif" fill="#2a2a2e" text-anchor="middle">A</text>
<text x="3279.9" y="2526.3" font-size="17.5" font-family="'Liberation Sans', sans-serif" fill="#2a2a2e" text-anchor="middle">A</text>
<text x="3334.1" y="2524.7" font-size="13" font-family="'Liberation Sans', sans-serif" fill="#2a2a2e" text-anchor="middle">A</text>
<text x="3386.1" y="2524.7" font-size="13" font-family="'Liberation Sans', sans-serif" fill="#2a2a2e" text-anchor="middle">B</text>
<text x="3439.7" y="2526.3" font-size="17.5" font-family="'Liberation Sans', sans-serif" fill="#2a2a2e" text-anchor="middle">B</text>
<text x="3495.9" y="2527.7" font-size="21.5" font-family="'Liberation Sans', sans-serif" fill="#2a2a2e" text-anchor="middle">B</text>
<text x="3554.6" y="2529.0" font-size="25" font-family="'Liberation Sans', sans-serif" fill="#2a2a2e" text-anchor="middle">B</text>
<text x="3135.0" y="2559.0" font-size="17.8" font-family="'Liberation Sans', sans-serif" fill="#fff" font-weight="bold">A is better</text>
<text x="3582.7" y="2559.0" font-size="17.8" font-family="'Liberation Sans', sans-serif" fill="#fff" text-anchor="end" font-weight="bold">B is better</text>
<rect x="2794.6" y="2625.5" width="1129.2" height="2.0" fill="#222"/>
<rect x="2794.6" y="2721.5" width="1129.2" height="1.4" fill="#222"/>
<rect x="2794.6" y="2815.8" width="1129.2" height="2.0" fill="#222"/>
<text x="2805.3" y="2685.0" font-size="35.2" font-family="'DejaVu Sans', sans-serif" fill="#000">Method</text>
<text x="3057.9" y="2685.0" font-size="35.2" font-family="'DejaVu Sans', sans-serif" fill="#000" textLength="269.3" lengthAdjust="spacingAndGlyphs">Avg. reward (↑)</text>
<text x="3363.0" y="2685.0" font-size="35.2" font-family="'DejaVu Sans', sans-serif" fill="#000" textLength="304.6" lengthAdjust="spacingAndGlyphs">KL divergence (↓)</text>
<text x="3801.7" y="2663.0" font-size="35.2" font-family="'DejaVu Sans', sans-serif" fill="#000" text-anchor="middle">Human eval.</text>
<text x="3702.5" y="2706.0" font-size="35.2" font-family="'DejaVu Sans', sans-serif" fill="#000" textLength="197.5" lengthAdjust="spacingAndGlyphs">win rate (↑)</text>
<text x="2805.3" y="2757.6" font-size="35.2" font-family="'DejaVu Sans', sans-serif" fill="#000">PPO</text>
<text x="3192.5" y="2757.6" font-size="35.2" font-family="'DejaVu Sans', sans-serif" fill="#000" text-anchor="middle">4.335 (+1.192)</text>
<text x="3515.3" y="2757.6" font-size="35.2" font-family="'DejaVu Sans', sans-serif" fill="#000" text-anchor="middle">0.0091</text>
<text x="3801.7" y="2757.6" font-size="35.2" font-family="'DejaVu Sans', sans-serif" fill="#000" text-anchor="middle">0.667</text>
<text x="2805.3" y="2800.6" font-size="35.2" font-family="'DejaVu Sans', sans-serif" fill="#000">DPPO (Ours)</text>
<text x="3192.5" y="2800.6" font-size="35.2" font-family="'DejaVu Sans', sans-serif" fill="#000" text-anchor="middle" font-weight="bold">4.515 (+1.372)</text>
<text x="3515.3" y="2800.6" font-size="35.2" font-family="'DejaVu Sans', sans-serif" fill="#000" text-anchor="middle" font-weight="bold">0.0083</text>
<text x="3801.7" y="2800.6" font-size="35.2" font-family="'DejaVu Sans', sans-serif" fill="#000" text-anchor="middle" font-weight="bold">0.697</text>
<svg x="2949.8" y="923" width="296" height="221.6" viewBox="0 0 2044 1530" preserveAspectRatio="none"><g transform="translate(-68,-55)"><rect x="68" y="55" width="2044" height="1530" fill="#cdcdcd"/><polygon points="68,55 195,55 68,205" fill="#e6e8f4" /><polygon points="68,205 195,55 300,560 720,640 450,700 68,300" fill="#c4c7df" /><polygon points="68,300 300,480 450,700 68,730" fill="#8c8ea6" /><polygon points="1640,450 1850,420 2112,570 2112,1060 1660,700" fill="#b8b8b8" /><polygon points="1750,55 2112,55 2112,570 1850,420 1640,450 1690,330" fill="#0b0b0d" /><polygon points="300,560 720,500 1560,360 1690,330 1640,450 1660,700 1300,680 800,770 450,700" fill="#f3f3f6" /><polygon points="300,560 720,500 800,660 450,700" fill="#d9dbee" /><polygon points="195,55 1750,55 1690,330 1420,390 720,500 300,560" fill="#656c8b" /><polygon points="195,55 1750,55 1745,80 205,95" fill="#7a81a0" /><path d="M630,95 L650,510 M1040,60 L1050,440 M1460,70 L1440,385" stroke="#4f5572" stroke-width="10" fill="none"/><polygon points="1020,60 1070,60 1075,440 1030,450" fill="#3f4459" /><polygon points="460,300 560,230 640,500 520,520" fill="#50566f" fill-opacity="0.7" /><polygon points="630,280 730,220 800,470 690,490" fill="#50566f" fill-opacity="0.7" /><path d="M580,210 L615,505 M740,190 L770,485 M1135,140 L1130,425" stroke="#7c7c7c" stroke-width="50" stroke-linecap="round" fill="none"/><polygon points="730,500 1555,360 1562,500 800,662" fill="#1f1f1f" /><circle cx="995" cy="500" r="40" fill="#6f6f6f"/><rect x="986" y="490" width="18" height="60" fill="#8a8a8a"/><rect x="983" y="460" width="24" height="14" fill="#b02020"/><circle cx="1100" cy="490" r="40" fill="#6f6f6f"/><rect x="1091" y="480" width="18" height="60" fill="#8a8a8a"/><rect x="1088" y="450" width="24" height="14" fill="#b02020"/><circle cx="995" cy="592" r="40" fill="#6f6f6f"/><rect x="986" y="582" width="18" height="60" fill="#8a8a8a"/><rect x="983" y="552" width="24" height="14" fill="#b02020"/><circle cx="1100" cy="582" r="40" fill="#6f6f6f"/><rect x="1091" y="572" width="18" height="60" fill="#8a8a8a"/><rect x="1088" y="542" width="24" height="14" fill="#b02020"/><circle cx="870" cy="575" r="30" fill="#777"/><path d="M880,580 L930,600" stroke="#999" stroke-width="26" stroke-linecap="round"/><path d="M1525,700 L1560,505 L1640,575 L1620,680" stroke="#7d7d7d" stroke-width="34" fill="none" stroke-linejoin="round"/><polygon points="68,730 175,860 370,1290 960,1340 1050,1585 68,1585" fill="#cfcfcf" /><polygon points="300,1300 700,1180 960,1340 900,1420 560,1350" fill="#a9a9a9" fill-opacity="0.7" /><polygon points="68,730 130,900 105,1585 68,1585" fill="#5b5b5b" /><polygon points="68,735 450,700 700,690 175,860 100,835" fill="#f2f2f2" /><polygon points="800,770 1300,680 1700,1130 1650,1585 1050,1585 960,1340 870,1050" fill="#2b2b2b" /><polygon points="960,1340 1700,1130 1650,1585 1050,1585" fill="#1d1d1d" /><circle cx="1010" cy="945" r="88" fill="none" stroke="#b5b5b5" stroke-width="6"/><circle cx="1010" cy="945" r="50" fill="none" stroke="#666" stroke-width="5"/><circle cx="1285" cy="880" r="84" fill="none" stroke="#b5b5b5" stroke-width="6"/><circle cx="1420" cy="1060" r="80" fill="none" stroke="#b5b5b5" stroke-width="6"/><polygon points="175,860 690,685 860,820 300,1030" fill="#3a3a3a" /><polygon points="175,860 300,1030 370,1290 260,1100" fill="#1c1c1c" /><polygon points="300,1030 860,820 850,1050 370,1290" fill="#2a2a2a" /><polygon points="380,1060 700,940 700,1100 430,1230" fill="#3a3a3a" /><path d="M708,925 L755,1120" stroke="#7a7a7a" stroke-width="30" stroke-linecap="round"/><polygon points="1425,770 1650,705 2095,1040 1710,1150" fill="#a3a3a3" /><polygon points="1470,790 1640,740 1985,1010 1740,1080" fill="#6b6b6b" /><polygon points="1560,800 1640,760 1900,990 1760,1040" fill="#575757" /><polygon points="1710,1150 2095,1040 2112,1050 2112,1585 1600,1585 1690,1200" fill="#687090" /><path d="M1735,1275 L2055,1170 M1705,1400 L2005,1300" stroke="#6d6d6d" stroke-width="30" stroke-linecap="round"/><path d="M1425,1585 L1440,1290" stroke="#d6ddcc" stroke-width="220" stroke-linecap="round"/><path d="M1450,960 L1530,940 L1600,1080 L1560,1200 L1440,1260" stroke="#d6ddcc" stroke-width="130" stroke-linecap="round" stroke-linejoin="round" fill="none"/><path d="M1400,1270 L1120,1270 L1050,1170" stroke="#d6ddcc" stroke-width="120" stroke-linecap="round" stroke-linejoin="round" fill="none"/><polygon points="920,1085 1110,1040 1105,1120 935,1155" fill="#e9ecdf" /><path d="M1440,1010 L1430,1180" stroke="#b9c0ae" stroke-width="40" stroke-linecap="round"/><path d="M990,1000 L1170,967" stroke="#9b5a34" stroke-width="42" stroke-linecap="round"/><path d="M1000,1010 L1000,1055 M1150,985 L1150,1030" stroke="#9b5a34" stroke-width="22"/></g></svg>
<svg x="3500.3" y="634.6" width="224.7" height="219.3" viewBox="0 0 663 647" preserveAspectRatio="none"><defs><filter id="mrb" x="0" y="0" width="100%" height="100%"><feTurbulence type="fractalNoise" baseFrequency="0.012" numOctaves="3" seed="7" result="n"/><feColorMatrix in="n" type="matrix" values="0 0 0 0 0.16  0 0 0 0 0.30  0 0 0 0 0.38  -1.8 0 0 0 1.25"/><feComposite in2="SourceGraphic" operator="in"/></filter><linearGradient id="skn" x1="0" y1="0" x2="1" y2="1"><stop offset="0" stop-color="#e3a98a"/><stop offset="1" stop-color="#c48566"/></linearGradient></defs><rect width="663" height="647" fill="#050505"/><polygon points="598,380 663,380 663,647 598,647" fill="#1d1d1d" /><polygon points="0,290 512,290 600,640 0,647" fill="#aab0b5" /><polygon points="0,290 512,290 600,640 0,647" fill="#fff" filter="url(#mrb)"/><polygon points="0,628 597,628 600,647 0,647" fill="#8a969c" /><rect x="180" y="42" width="58" height="275" rx="26" fill="#8e1d1b"/><rect x="543" y="42" width="62" height="280" rx="26" fill="#8e1d1b"/><rect x="245" y="38" width="296" height="285" rx="28" fill="#a55220"/><polygon points="160,330 300,300 560,300 600,345 200,360" fill="#4a5258" fill-opacity="0.5" /><circle cx="297" cy="225" r="27" fill="#9a9a9a"/><path d="M300,240 L425,240" stroke="#c9c9c9" stroke-width="16" stroke-linecap="round"/><polygon points="205,380 540,380 575,600 215,610" fill="#e0a284" fill-opacity="0.38" /><polygon points="330,330 385,300 410,380 345,415 290,395 285,350" fill="url(#skn)" /><path d="M340,300 L335,215 M355,296 L360,205 M372,296 L385,205 M388,300 L408,215" stroke="#d99c7e" stroke-width="9" stroke-linecap="round"/><rect x="325" y="270" width="75" height="45" rx="8" fill="#d99c7e"/><ellipse cx="325" cy="400" rx="40" ry="16" fill="#c27f60" transform="rotate(20 325 400)"/><path d="M280,520 L400,515" stroke="#e9edf0" stroke-width="14" stroke-linecap="round"/><circle cx="290" cy="478" r="22" fill="#3e464c"/></svg>
<svg x="3762.4" y="634.6" width="225.1" height="219.3" viewBox="0 0 663 647" preserveAspectRatio="none"><defs><filter id="mrb" x="0" y="0" width="100%" height="100%"><feTurbulence type="fractalNoise" baseFrequency="0.012" numOctaves="3" seed="7" result="n"/><feColorMatrix in="n" type="matrix" values="0 0 0 0 0.16  0 0 0 0 0.30  0 0 0 0 0.38  -1.8 0 0 0 1.25"/><feComposite in2="SourceGraphic" operator="in"/></filter><linearGradient id="skn" x1="0" y1="0" x2="1" y2="1"><stop offset="0" stop-color="#e3a98a"/><stop offset="1" stop-color="#c48566"/></linearGradient></defs><rect width="663" height="647" fill="#050505"/><polygon points="0,195 152,66 663,182 663,647 0,647" fill="#aab0b5" /><polygon points="0,195 152,66 663,182 663,647 0,647" fill="#fff" filter="url(#mrb)"/><polygon points="300,340 470,275 500,330 430,440 300,480 250,520 230,470" fill="#54606a" fill-opacity="0.75" /><circle cx="495" cy="295" r="58" fill="#d9c774" fill-opacity="0.62"/><ellipse cx="578" cy="455" rx="57" ry="42" fill="#30363b" fill-opacity="0.85"/><circle cx="470" cy="592" r="46" fill="#e9dfb0" fill-opacity="0.38"/><circle cx="160" cy="590" r="36" fill="#e9dfb0" fill-opacity="0.3"/><circle cx="146" cy="522" r="40" fill="#59682a"/><polygon points="322,112 395,130 418,190 395,245 300,285 255,300 235,270 268,225 290,160" fill="url(#skn)" /><ellipse cx="372" cy="158" rx="52" ry="40" fill="#dba184" transform="rotate(25 372 158)"/><polygon points="180,300 255,275 270,330 215,400 150,380" fill="url(#skn)" /><path d="M185,350 L95,425 M195,375 L100,455 M210,395 L110,480 M225,400 L150,515 M250,350 L245,455" stroke="#d5977a" stroke-width="15" stroke-linecap="round"/></svg>
<svg x="3500.3" y="910.2" width="224.7" height="220" viewBox="0 0 663 647" preserveAspectRatio="none"><defs><filter id="mrb" x="0" y="0" width="100%" height="100%"><feTurbulence type="fractalNoise" baseFrequency="0.012" numOctaves="3" seed="7" result="n"/><feColorMatrix in="n" type="matrix" values="0 0 0 0 0.16  0 0 0 0 0.30  0 0 0 0 0.38  -1.8 0 0 0 1.25"/><feComposite in2="SourceGraphic" operator="in"/></filter><linearGradient id="skn" x1="0" y1="0" x2="1" y2="1"><stop offset="0" stop-color="#e3a98a"/><stop offset="1" stop-color="#c48566"/></linearGradient></defs><polygon points="0,0 663,0 663,647 0,647" fill="#aab0b5" /><polygon points="0,0 663,0 663,647 0,647" fill="#fff" filter="url(#mrb)"/><polygon points="638,0 663,0 663,42" fill="#050505" /><polygon points="85,510 440,410 460,440 330,520 150,560" fill="#56626c" fill-opacity="0.8" /><polygon points="165,647 385,647 350,410 305,340 255,340 215,410" fill="url(#skn)" /><ellipse cx="275" cy="640" rx="110" ry="28" fill="#c58869"/><polygon points="235,300 290,260 395,270 410,300 330,345 255,345" fill="#d89b7d" /><path d="M292,255 L292,190 M320,260 L345,215 M360,290 L408,285" stroke="#dca284" stroke-width="20" stroke-linecap="round"/><path d="M200,285 L320,276" stroke="#79838c" stroke-width="40" stroke-linecap="round"/><path d="M198,285 L215,284" stroke="#2f62c8" stroke-width="40" stroke-linecap="round"/><path d="M305,277 L322,276" stroke="#2f62c8" stroke-width="40" stroke-linecap="round"/><path d="M520,218 L590,205" stroke="#4a8a68" stroke-width="40" stroke-linecap="round"/><path d="M520,218 L525,217" stroke="#2c7a4c" stroke-width="40" stroke-linecap="round"/></svg>
<svg x="3762.4" y="910.2" width="225.1" height="220" viewBox="0 0 663 647" preserveAspectRatio="none"><defs><filter id="mrb" x="0" y="0" width="100%" height="100%"><feTurbulence type="fractalNoise" baseFrequency="0.012" numOctaves="3" seed="7" result="n"/><feColorMatrix in="n" type="matrix" values="0 0 0 0 0.16  0 0 0 0 0.30  0 0 0 0 0.38  -1.8 0 0 0 1.25"/><feComposite in2="SourceGraphic" operator="in"/></filter><linearGradient id="skn" x1="0" y1="0" x2="1" y2="1"><stop offset="0" stop-color="#e3a98a"/><stop offset="1" stop-color="#c48566"/></linearGradient></defs><rect width="663" height="647" fill="#050505"/><polygon points="230,647 663,375 663,647" fill="#1a1a1a" /><polygon points="0,115 365,5 663,232 663,380 235,647 0,647" fill="#aab0b5" /><polygon points="0,115 365,5 663,232 663,380 235,647 0,647" fill="#fff" filter="url(#mrb)"/><polygon points="600,420 663,380 663,400 245,647 235,647" fill="#7e8a90" /><path d="M560,440 L505,600" stroke="#4a4a4a" stroke-width="22"/><polygon points="230,300 560,330 600,420 480,470 300,360" fill="#54606a" fill-opacity="0.6" /><polygon points="255,72 352,100 358,205 262,185" fill="#a5511f" /><path d="M268,168 L312,145" stroke="#bbb" stroke-width="12"/><circle cx="265" cy="168" r="26" fill="#8f8f8f"/><rect x="192" y="213" width="34" height="60" rx="6" fill="#4c4c4c"/><path d="M226,242 L345,226" stroke="#d5d5d5" stroke-width="9"/><ellipse cx="367" cy="226" rx="32" ry="17" fill="#9a4519" transform="rotate(-8 367 226)"/><polygon points="385,175 450,185 470,240 425,265 385,235" fill="#d89b7d" /><polygon points="430,255 480,240 585,330 590,390 530,415 470,370" fill="url(#skn)" /><ellipse cx="540" cy="360" rx="55" ry="62" fill="#cf8f70" transform="rotate(-30 540 360)"/></svg>
<text x="2846.6" y="907.8" font-size="23.6" font-family="'Liberation Serif', serif" fill="#000" text-anchor="middle">Hopper-v1</text>
<text x="3099.0" y="907.8" font-size="23.6" font-family="'Liberation Serif', serif" fill="#000" text-anchor="middle">Walker2d-v1</text>
<text x="3349.3" y="907.8" font-size="23.6" font-family="'Liberation Serif', serif" fill="#000" text-anchor="middle">HalfCheetah-v1</text>
<text x="3612.6" y="891.0" font-size="23.6" font-family="'Liberation Serif', serif" fill="#000" text-anchor="middle">(a)</text>
<text x="3874.5" y="891.0" font-size="23.6" font-family="'Liberation Serif', serif" fill="#000" text-anchor="middle">(b)</text>
<text x="3612.6" y="1158.3" font-size="23.6" font-family="'Liberation Serif', serif" fill="#000" text-anchor="middle">(c)</text>
<text x="3874.5" y="1158.3" font-size="23.6" font-family="'Liberation Serif', serif" fill="#000" text-anchor="middle">(d)</text>
<g transform="translate(50,20) scale(0.23414)" fill="#273c82"><ellipse cx="704" cy="1433" rx="75.0" ry="23.0" transform="rotate(218 704 1433)"/><ellipse cx="691" cy="1508" rx="75.0" ry="23.0" transform="rotate(162 691 1508)"/><ellipse cx="556" cy="1387" rx="75.0" ry="23.0" transform="rotate(232 556 1387)"/><ellipse cx="525" cy="1456" rx="75.0" ry="23.0" transform="rotate(176 525 1456)"/><ellipse cx="425" cy="1306" rx="75.0" ry="23.0" transform="rotate(247 425 1306)"/><ellipse cx="377" cy="1365" rx="75.0" ry="23.0" transform="rotate(191 377 1365)"/><ellipse cx="318" cy="1194" rx="75.0" ry="23.0" transform="rotate(262 318 1194)"/><ellipse cx="257" cy="1239" rx="75.0" ry="23.0" transform="rotate(206 257 1239)"/><ellipse cx="243" cy="1059" rx="75.0" ry="23.0" transform="rotate(276 243 1059)"/><ellipse cx="172" cy="1088" rx="75.0" ry="23.0" transform="rotate(220 172 1088)"/><ellipse cx="203" cy="910" rx="75.0" ry="23.0" transform="rotate(290 203 910)"/><ellipse cx="128" cy="920" rx="75.0" ry="23.0" transform="rotate(234 128 920)"/><ellipse cx="203" cy="755" rx="75.0" ry="23.0" transform="rotate(305 203 755)"/><ellipse cx="127" cy="746" rx="75.0" ry="23.0" transform="rotate(249 127 746)"/><ellipse cx="241" cy="606" rx="75.0" ry="23.0" transform="rotate(320 241 606)"/><ellipse cx="170" cy="578" rx="75.0" ry="23.0" transform="rotate(264 170 578)"/><ellipse cx="315" cy="470" rx="75.0" ry="23.0" transform="rotate(334 315 470)"/><ellipse cx="253" cy="426" rx="75.0" ry="23.0" transform="rotate(278 253 426)"/><ellipse cx="421" cy="358" rx="75.0" ry="23.0" transform="rotate(348 421 358)"/><ellipse cx="372" cy="299" rx="75.0" ry="23.0" transform="rotate(292 372 299)"/><ellipse cx="551" cy="275" rx="75.0" ry="23.0" transform="rotate(363 551 275)"/><ellipse cx="519" cy="206" rx="75.0" ry="23.0" transform="rotate(307 519 206)"/><ellipse cx="698" cy="228" rx="75.0" ry="23.0" transform="rotate(378 698 228)"/><ellipse cx="685" cy="154" rx="75.0" ry="23.0" transform="rotate(322 685 154)"/><ellipse cx="916" cy="1433" rx="75.0" ry="23.0" transform="rotate(-38 916 1433)"/><ellipse cx="929" cy="1508" rx="75.0" ry="23.0" transform="rotate(18 929 1508)"/><ellipse cx="1064" cy="1387" rx="75.0" ry="23.0" transform="rotate(-52 1064 1387)"/><ellipse cx="1095" cy="1456" rx="75.0" ry="23.0" transform="rotate(4 1095 1456)"/><ellipse cx="1195" cy="1306" rx="75.0" ry="23.0" transform="rotate(-67 1195 1306)"/><ellipse cx="1243" cy="1365" rx="75.0" ry="23.0" transform="rotate(-11 1243 1365)"/><ellipse cx="1302" cy="1194" rx="75.0" ry="23.0" transform="rotate(-82 1302 1194)"/><ellipse cx="1363" cy="1239" rx="75.0" ry="23.0" transform="rotate(-26 1363 1239)"/><ellipse cx="1377" cy="1059" rx="75.0" ry="23.0" transform="rotate(-96 1377 1059)"/><ellipse cx="1448" cy="1088" rx="75.0" ry="23.0" transform="rotate(-40 1448 1088)"/><ellipse cx="1417" cy="910" rx="75.0" ry="23.0" transform="rotate(-110 1417 910)"/><ellipse cx="1492" cy="920" rx="75.0" ry="23.0" transform="rotate(-54 1492 920)"/><ellipse cx="1417" cy="755" rx="75.0" ry="23.0" transform="rotate(-125 1417 755)"/><ellipse cx="1493" cy="746" rx="75.0" ry="23.0" transform="rotate(-69 1493 746)"/><ellipse cx="1379" cy="606" rx="75.0" ry="23.0" transform="rotate(-140 1379 606)"/><ellipse cx="1450" cy="578" rx="75.0" ry="23.0" transform="rotate(-84 1450 578)"/><ellipse cx="1305" cy="470" rx="75.0" ry="23.0" transform="rotate(-154 1305 470)"/><ellipse cx="1367" cy="426" rx="75.0" ry="23.0" transform="rotate(-98 1367 426)"/><ellipse cx="1199" cy="358" rx="75.0" ry="23.0" transform="rotate(-168 1199 358)"/><ellipse cx="1248" cy="299" rx="75.0" ry="23.0" transform="rotate(-112 1248 299)"/><ellipse cx="1069" cy="275" rx="75.0" ry="23.0" transform="rotate(-183 1069 275)"/><ellipse cx="1101" cy="206" rx="75.0" ry="23.0" transform="rotate(-127 1101 206)"/><ellipse cx="922" cy="228" rx="75.0" ry="23.0" transform="rotate(-198 922 228)"/><ellipse cx="935" cy="154" rx="75.0" ry="23.0" transform="rotate(-142 935 154)"/><polygon points="78,210 130,158 205,150 655,610 655,720 520,720"/><path d="M120,255 L300,255 M175,310 L610,720 M330,340 L500,340 L500,505 M430,520 L640,580" stroke="#fff" stroke-width="7" fill="none"/><polygon points="1195,1180 1245,1180 1512,1468 1478,1500"/><polygon points="1090,425 1330,210 1405,385 1080,720 985,720 1190,520"/><polygon points="1250,200 1300,170 1420,300 1370,345"/><path d="M1120,395 L1330,600 M1255,245 L1395,370" stroke="#fff" stroke-width="7" fill="none"/><path d="M1240,45 Q1330,110 1440,95 Q1560,120 1525,250 Q1480,360 1400,375 Q1460,300 1440,230 Q1400,170 1330,200 L1270,200 Q1290,120 1240,45 Z"/><polygon points="395,1180 445,1180 205,1500 168,1478"/><rect x="425" y="760" width="770" height="530"/><rect x="362" y="812" width="896" height="290"/><rect x="478" y="725" width="664" height="540"/><rect x="780" y="1280" width="66" height="66"/><rect x="481" y="730" width="658" height="528" fill="none" stroke="#fff" stroke-width="5"/><path d="M812,870 L812,1290" stroke="#fff" stroke-width="5"/><path d="M625,262 L990,262 L990,690 A182.5,182.5 0 0 1 625,690 Z" stroke="#fff" stroke-width="7"/><g fill="#fff"><rect x="828" y="320" width="58" height="395"/><rect x="710" y="320" width="176" height="58"/><rect x="886" y="398" width="56" height="42"/><rect x="886" y="476" width="56" height="42"/><polygon points="675,685 760,600 800,640 830,612 830,715 705,715"/></g><text x="525" y="995" font-family="'Liberation Sans', sans-serif" font-weight="bold" font-size="132" fill="#fff" textLength="245" lengthAdjust="spacingAndGlyphs">VERI</text><text x="555" y="1140" font-family="'Liberation Sans', sans-serif" font-weight="bold" font-size="132" fill="#fff" textLength="200" lengthAdjust="spacingAndGlyphs">TAS</text><text x="860" y="995" font-family="'Liberation Sans', sans-serif" font-weight="bold" font-size="132" fill="#fff" textLength="228" lengthAdjust="spacingAndGlyphs">LUX</text><text x="850" y="1140" font-family="'Liberation Sans', sans-serif" font-weight="bold" font-size="132" fill="#fff" textLength="250" lengthAdjust="spacingAndGlyphs">MEA</text><circle cx="818" cy="198" r="14"/><polygon points="795,1480 845,1480 835,1530 845,1580 795,1580 805,1530"/></g>
<defs><linearGradient id="npg" gradientUnits="userSpaceOnUse" x1="3500" y1="15" x2="3500" y2="262"><stop offset="0" stop-color="#583a86"/><stop offset="0.45" stop-color="#6b4a93"/><stop offset="1" stop-color="#9273ad"/></linearGradient></defs><g fill="url(#npg)" stroke="url(#npg)" stroke-linecap="round"><ellipse cx="3664.7" cy="89.7" rx="2.1" ry="2.5" stroke="none"/><ellipse cx="3650.9" cy="76.0" rx="2.3" ry="2.7" stroke="none"/><line x1="3664.7" y1="89.7" x2="3650.9" y2="76.0" stroke-width="1.9"/><ellipse cx="3625.9" cy="73.7" rx="2.1" ry="2.5" stroke="none"/><ellipse cx="3645.7" cy="58.5" rx="2.1" ry="2.4" stroke="none"/><ellipse cx="3613.7" cy="69.2" rx="2.6" ry="3.0" stroke="none"/><ellipse cx="3625.8" cy="50.9" rx="2.5" ry="2.8" stroke="none"/><line x1="3625.9" y1="73.7" x2="3613.7" y2="69.2" stroke-width="1.9"/><ellipse cx="3599.0" cy="66.5" rx="3.1" ry="3.6" stroke="none"/><ellipse cx="3603.3" cy="52.0" rx="2.7" ry="3.1" stroke="none"/><ellipse cx="3612.4" cy="40.2" rx="3.5" ry="4.0" stroke="none"/><line x1="3613.7" y1="69.2" x2="3612.4" y2="40.2" stroke-width="2.4"/><line x1="3599.0" y1="66.5" x2="3603.3" y2="52.0" stroke-width="2.5"/><ellipse cx="3586.0" cy="61.5" rx="3.2" ry="3.6" stroke="none"/><ellipse cx="3587.3" cy="44.4" rx="3.3" ry="3.8" stroke="none"/><ellipse cx="3590.9" cy="28.3" rx="3.1" ry="3.6" stroke="none"/><line x1="3586.0" y1="61.5" x2="3587.3" y2="44.4" stroke-width="2.5"/><ellipse cx="3569.6" cy="60.3" rx="4.3" ry="5.0" stroke="none"/><ellipse cx="3574.0" cy="41.2" rx="4.8" ry="5.5" stroke="none"/><ellipse cx="3578.3" cy="24.0" rx="4.2" ry="4.9" stroke="none"/><line x1="3586.0" y1="61.5" x2="3574.0" y2="41.2" stroke-width="2.8"/><ellipse cx="3558.3" cy="66.5" rx="4.1" ry="4.7" stroke="none"/><ellipse cx="3561.0" cy="44.7" rx="4.3" ry="4.9" stroke="none"/><ellipse cx="3556.5" cy="19.9" rx="4.3" ry="5.0" stroke="none"/><line x1="3558.3" y1="66.5" x2="3561.0" y2="44.7" stroke-width="3.3"/><ellipse cx="3544.8" cy="65.7" rx="5.4" ry="6.2" stroke="none"/><ellipse cx="3541.0" cy="46.7" rx="7.0" ry="8.0" stroke="none"/><ellipse cx="3535.0" cy="21.8" rx="6.7" ry="7.7" stroke="none"/><line x1="3561.0" y1="44.7" x2="3535.0" y2="21.8" stroke-width="3.8"/><ellipse cx="3539.4" cy="70.9" rx="5.2" ry="6.0" stroke="none"/><ellipse cx="3529.7" cy="50.0" rx="5.5" ry="6.4" stroke="none"/><ellipse cx="3515.0" cy="32.2" rx="4.8" ry="5.5" stroke="none"/><line x1="3544.8" y1="65.7" x2="3539.4" y2="70.9" stroke-width="4.7"/><ellipse cx="3524.8" cy="76.4" rx="8.1" ry="9.3" stroke="none"/><ellipse cx="3513.3" cy="56.8" rx="7.8" ry="9.0" stroke="none"/><ellipse cx="3499.0" cy="42.1" rx="7.9" ry="9.1" stroke="none"/><line x1="3524.8" y1="76.4" x2="3513.3" y2="56.8" stroke-width="6.5"/><ellipse cx="3517.1" cy="83.6" rx="8.6" ry="9.9" stroke="none"/><ellipse cx="3503.9" cy="65.8" rx="8.4" ry="9.7" stroke="none"/><ellipse cx="3484.1" cy="50.7" rx="5.6" ry="6.4" stroke="none"/><line x1="3513.3" y1="56.8" x2="3517.1" y2="83.6" stroke-width="7.0"/><ellipse cx="3506.4" cy="93.1" rx="9.0" ry="10.3" stroke="none"/><ellipse cx="3489.1" cy="78.6" rx="9.1" ry="10.4" stroke="none"/><ellipse cx="3467.0" cy="66.5" rx="7.4" ry="8.5" stroke="none"/><ellipse cx="3500.8" cy="105.5" rx="9.0" ry="10.4" stroke="none"/><ellipse cx="3477.0" cy="94.7" rx="7.1" ry="8.2" stroke="none"/><ellipse cx="3459.9" cy="86.5" rx="6.6" ry="7.6" stroke="none"/><line x1="3506.4" y1="93.1" x2="3500.8" y2="105.5" stroke-width="8.1"/><ellipse cx="3493.2" cy="110.3" rx="8.0" ry="9.2" stroke="none"/><ellipse cx="3472.7" cy="105.9" rx="6.1" ry="7.0" stroke="none"/><ellipse cx="3453.9" cy="105.4" rx="9.0" ry="10.4" stroke="none"/><ellipse cx="3494.3" cy="125.8" rx="7.4" ry="8.5" stroke="none"/><ellipse cx="3468.0" cy="124.0" rx="9.3" ry="10.7" stroke="none"/><ellipse cx="3450.5" cy="119.1" rx="8.3" ry="9.6" stroke="none"/><ellipse cx="3489.2" cy="136.7" rx="9.0" ry="10.4" stroke="none"/><ellipse cx="3469.3" cy="137.2" rx="9.0" ry="10.3" stroke="none"/><ellipse cx="3444.2" cy="139.8" rx="8.5" ry="9.8" stroke="none"/><ellipse cx="3491.0" cy="151.9" rx="7.8" ry="8.9" stroke="none"/><ellipse cx="3469.9" cy="158.4" rx="8.0" ry="9.2" stroke="none"/><ellipse cx="3444.7" cy="155.3" rx="8.3" ry="9.6" stroke="none"/><line x1="3444.2" y1="139.8" x2="3444.7" y2="155.3" stroke-width="7.5"/><ellipse cx="3494.4" cy="160.9" rx="5.8" ry="6.7" stroke="none"/><ellipse cx="3474.1" cy="174.7" rx="7.8" ry="9.0" stroke="none"/><ellipse cx="3454.4" cy="180.5" rx="8.2" ry="9.4" stroke="none"/><line x1="3444.7" y1="155.3" x2="3454.4" y2="180.5" stroke-width="7.4"/><ellipse cx="3502.8" cy="176.3" rx="6.7" ry="7.7" stroke="none"/><ellipse cx="3481.1" cy="187.9" rx="6.2" ry="7.1" stroke="none"/><ellipse cx="3458.7" cy="195.7" rx="7.2" ry="8.3" stroke="none"/><line x1="3502.8" y1="176.3" x2="3481.1" y2="187.9" stroke-width="5.3"/><ellipse cx="3507.4" cy="186.8" rx="7.2" ry="8.2" stroke="none"/><ellipse cx="3486.3" cy="196.9" rx="8.9" ry="10.2" stroke="none"/><ellipse cx="3472.8" cy="211.3" rx="6.7" ry="7.7" stroke="none"/><line x1="3481.1" y1="187.9" x2="3486.3" y2="196.9" stroke-width="5.6"/><ellipse cx="3513.2" cy="194.3" rx="9.2" ry="10.5" stroke="none"/><ellipse cx="3504.0" cy="210.9" rx="7.2" ry="8.3" stroke="none"/><ellipse cx="3489.7" cy="227.6" rx="7.1" ry="8.2" stroke="none"/><ellipse cx="3524.4" cy="198.9" rx="9.3" ry="10.7" stroke="none"/><ellipse cx="3517.3" cy="221.3" rx="5.6" ry="6.5" stroke="none"/><ellipse cx="3505.5" cy="242.8" rx="8.2" ry="9.5" stroke="none"/><line x1="3504.0" y1="210.9" x2="3505.5" y2="242.8" stroke-width="6.5"/><ellipse cx="3539.9" cy="204.8" rx="7.3" ry="8.4" stroke="none"/><ellipse cx="3527.1" cy="223.4" rx="6.4" ry="7.4" stroke="none"/><ellipse cx="3525.4" cy="247.1" rx="7.9" ry="9.1" stroke="none"/><line x1="3505.5" y1="242.8" x2="3525.4" y2="247.1" stroke-width="7.1"/><ellipse cx="3544.7" cy="213.5" rx="8.1" ry="9.4" stroke="none"/><ellipse cx="3544.5" cy="230.1" rx="6.2" ry="7.1" stroke="none"/><ellipse cx="3540.6" cy="248.3" rx="8.3" ry="9.5" stroke="none"/><line x1="3527.1" y1="223.4" x2="3544.5" y2="230.1" stroke-width="5.6"/><ellipse cx="3560.7" cy="216.8" rx="9.3" ry="10.7" stroke="none"/><ellipse cx="3557.2" cy="231.7" rx="8.2" ry="9.4" stroke="none"/><ellipse cx="3560.0" cy="252.1" rx="8.9" ry="10.3" stroke="none"/><line x1="3544.5" y1="230.1" x2="3557.2" y2="231.7" stroke-width="5.6"/><line x1="3560.7" y1="216.8" x2="3557.2" y2="231.7" stroke-width="7.5"/><ellipse cx="3577.3" cy="215.5" rx="7.6" ry="8.8" stroke="none"/><ellipse cx="3576.2" cy="234.2" rx="8.7" ry="10.0" stroke="none"/><ellipse cx="3580.1" cy="251.8" rx="9.3" ry="10.7" stroke="none"/><line x1="3560.0" y1="252.1" x2="3580.1" y2="251.8" stroke-width="8.0"/><line x1="3577.3" y1="215.5" x2="3576.2" y2="234.2" stroke-width="6.1"/></g>
<text x="3556.0" y="134.9" font-size="40.5" font-family="'Liberation Sans', sans-serif" fill="#3a3a40" textLength="459.7" lengthAdjust="spacingAndGlyphs" stroke="#3a3a40" stroke-width="0.6">NEURAL INFORMATION</text>
<text x="3556.0" y="174.8" font-size="40.5" font-family="'Liberation Sans', sans-serif" fill="#3a3a40" textLength="458.0" lengthAdjust="spacingAndGlyphs" stroke="#3a3a40" stroke-width="0.6">PROCESSING SYSTEMS</text>
<rect x="3429.0" y="277.5" width="596.0" height="112.5" fill="#f7f7f7"/>
<defs><linearGradient id="nv1" x1="0.2" y1="0" x2="0.8" y2="1"><stop offset="0" stop-color="#7deba0"/><stop offset="0.55" stop-color="#4c8fe0"/><stop offset="1" stop-color="#7a68f5"/></linearGradient><linearGradient id="nv2" x1="0" y1="1" x2="1" y2="0"><stop offset="0" stop-color="#86f03a"/><stop offset="1" stop-color="#52dc70"/></linearGradient></defs><path d="M3473.4,281.8 L3502.7,281.8 L3549.7,364 L3536.5,386 L3510,386 L3463,305.3 Z" fill="url(#nv1)" stroke="url(#nv1)" stroke-width="3" stroke-linejoin="round"/>
<path d="M3429.4,364 L3441,343.5 L3466,343.5 L3477.8,364 L3466,384.5 L3441,384.5 Z" fill="url(#nv2)" stroke="url(#nv2)" stroke-width="3" stroke-linejoin="round"/>
<text x="3589.0" y="367.0" font-size="84.6" font-family="'Liberation Sans', sans-serif" fill="#000" font-weight="bold" textLength="324.0" lengthAdjust="spacingAndGlyphs" stroke="#000" stroke-width="3.5">NAVER</text>
<text x="3945.0" y="367.0" font-size="84.6" font-family="'Liberation Sans', sans-serif" fill="#111" textLength="77.0" lengthAdjust="spacingAndGlyphs" stroke="#111" stroke-width="1.2">AI</text>

</svg>
</div>
</body></html>
